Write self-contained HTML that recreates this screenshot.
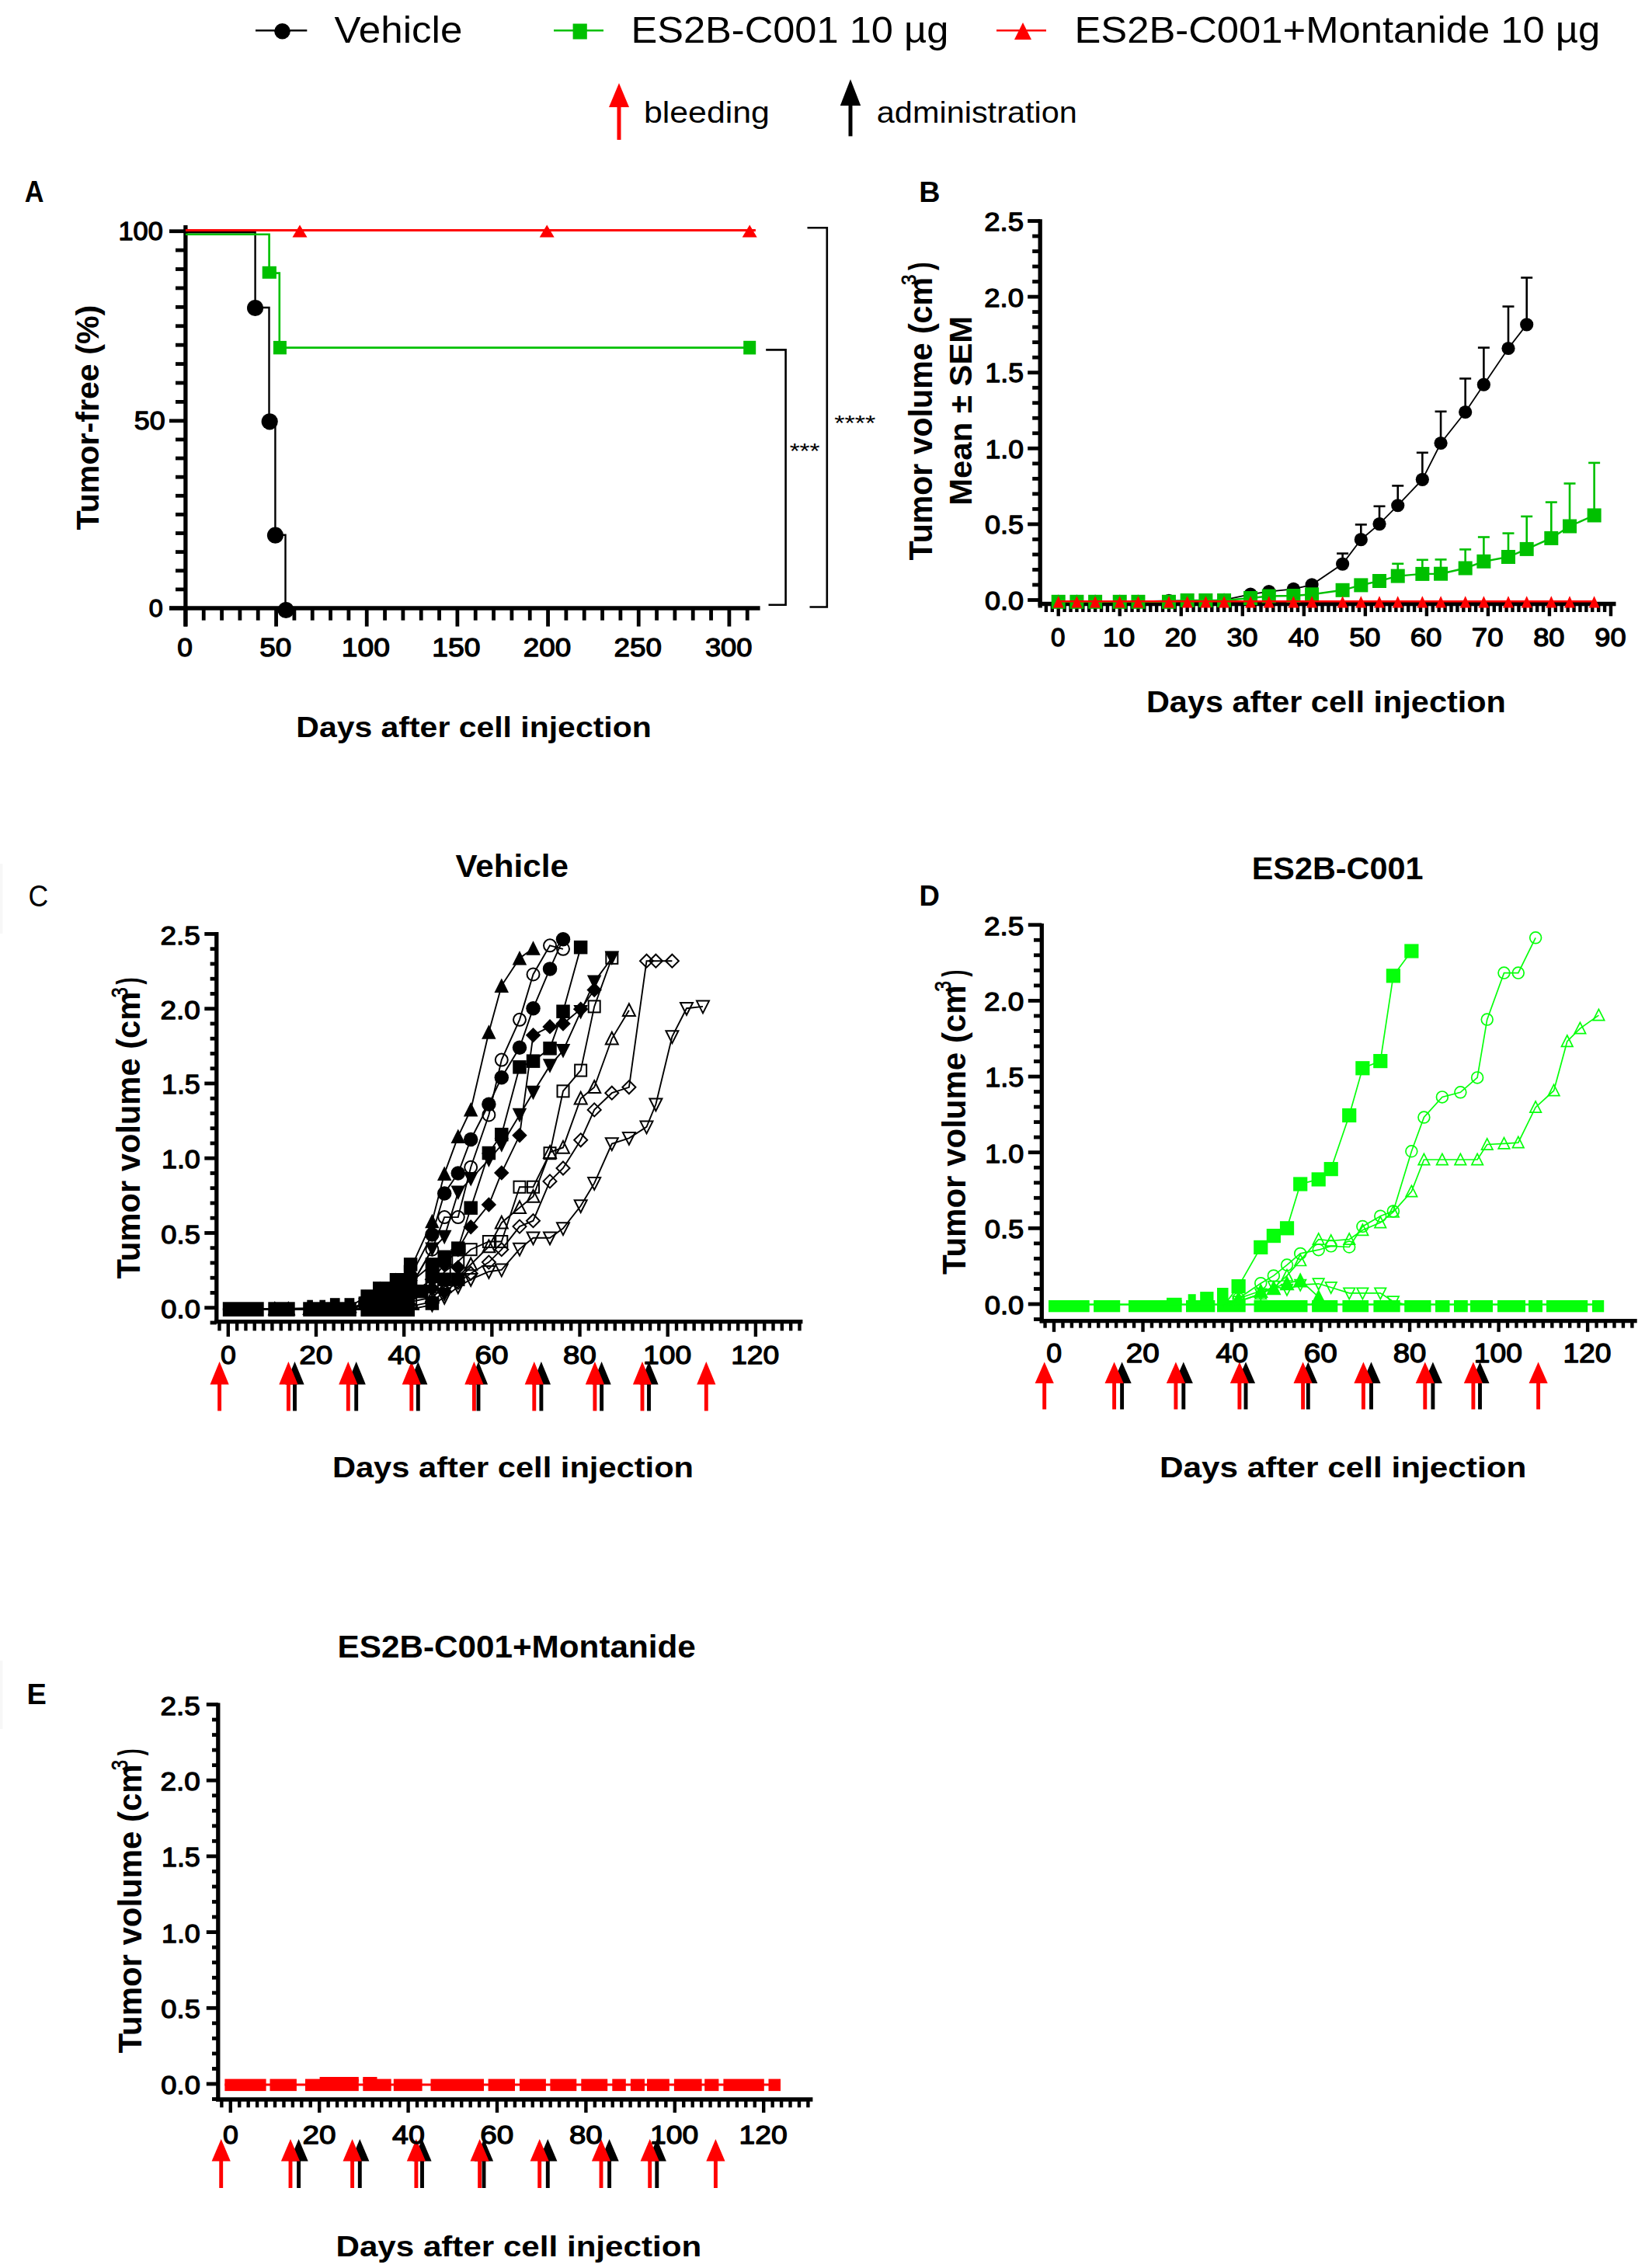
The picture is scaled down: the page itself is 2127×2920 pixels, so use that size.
<!DOCTYPE html>
<html><head><meta charset="utf-8"><style>
html,body{margin:0;padding:0;background:#fff;}
svg{display:block;}
text{font-family:"Liberation Sans", Arial, sans-serif;}
</style></head><body>
<svg width="2127" height="2920" viewBox="0 0 2127 2920">
<rect width="2127" height="2920" fill="#fff"/>
<line x1="329.00" y1="39.30" x2="395.30" y2="39.30" stroke="#000" stroke-width="2.6" stroke-linecap="butt"/>
<circle cx="363.50" cy="40.30" r="10.30" fill="#000"/>
<line x1="713.00" y1="39.30" x2="777.00" y2="39.30" stroke="#00c000" stroke-width="2.6" stroke-linecap="butt"/>
<rect x="737.60" y="30.50" width="18.20" height="20.00" fill="#00c000"/>
<line x1="1283.00" y1="39.30" x2="1347.00" y2="39.30" stroke="#ff0000" stroke-width="2.6" stroke-linecap="butt"/>
<polygon fill="#ff0000" points="1317.0,29.0 1328.0,51.0 1306.0,51.0"/>
<line x1="797.00" y1="137.00" x2="797.00" y2="180.00" stroke="#ff0000" stroke-width="5" stroke-linecap="butt"/>
<polygon fill="#ff0000" points="797.0,107.0 810.0,138.0 784.0,138.0"/>
<line x1="1095.00" y1="135.00" x2="1095.00" y2="175.40" stroke="#000" stroke-width="5" stroke-linecap="butt"/>
<polygon fill="#000" points="1095.0,102.0 1108.2,136.0 1081.8,136.0"/>
<line x1="218.00" y1="783.00" x2="239.00" y2="783.00" stroke="#000" stroke-width="4.8" stroke-linecap="butt"/>
<line x1="226.00" y1="758.88" x2="239.00" y2="758.88" stroke="#000" stroke-width="4.8" stroke-linecap="butt"/>
<line x1="226.00" y1="734.76" x2="239.00" y2="734.76" stroke="#000" stroke-width="4.8" stroke-linecap="butt"/>
<line x1="226.00" y1="710.64" x2="239.00" y2="710.64" stroke="#000" stroke-width="4.8" stroke-linecap="butt"/>
<line x1="226.00" y1="686.52" x2="239.00" y2="686.52" stroke="#000" stroke-width="4.8" stroke-linecap="butt"/>
<line x1="226.00" y1="662.40" x2="239.00" y2="662.40" stroke="#000" stroke-width="4.8" stroke-linecap="butt"/>
<line x1="226.00" y1="638.28" x2="239.00" y2="638.28" stroke="#000" stroke-width="4.8" stroke-linecap="butt"/>
<line x1="226.00" y1="614.16" x2="239.00" y2="614.16" stroke="#000" stroke-width="4.8" stroke-linecap="butt"/>
<line x1="226.00" y1="590.04" x2="239.00" y2="590.04" stroke="#000" stroke-width="4.8" stroke-linecap="butt"/>
<line x1="226.00" y1="565.92" x2="239.00" y2="565.92" stroke="#000" stroke-width="4.8" stroke-linecap="butt"/>
<line x1="218.00" y1="541.80" x2="239.00" y2="541.80" stroke="#000" stroke-width="4.8" stroke-linecap="butt"/>
<line x1="226.00" y1="517.39" x2="239.00" y2="517.39" stroke="#000" stroke-width="4.8" stroke-linecap="butt"/>
<line x1="226.00" y1="492.98" x2="239.00" y2="492.98" stroke="#000" stroke-width="4.8" stroke-linecap="butt"/>
<line x1="226.00" y1="468.57" x2="239.00" y2="468.57" stroke="#000" stroke-width="4.8" stroke-linecap="butt"/>
<line x1="226.00" y1="444.16" x2="239.00" y2="444.16" stroke="#000" stroke-width="4.8" stroke-linecap="butt"/>
<line x1="226.00" y1="419.75" x2="239.00" y2="419.75" stroke="#000" stroke-width="4.8" stroke-linecap="butt"/>
<line x1="226.00" y1="395.34" x2="239.00" y2="395.34" stroke="#000" stroke-width="4.8" stroke-linecap="butt"/>
<line x1="226.00" y1="370.93" x2="239.00" y2="370.93" stroke="#000" stroke-width="4.8" stroke-linecap="butt"/>
<line x1="226.00" y1="346.52" x2="239.00" y2="346.52" stroke="#000" stroke-width="4.8" stroke-linecap="butt"/>
<line x1="226.00" y1="322.11" x2="239.00" y2="322.11" stroke="#000" stroke-width="4.8" stroke-linecap="butt"/>
<line x1="218.00" y1="297.70" x2="239.00" y2="297.70" stroke="#000" stroke-width="4.8" stroke-linecap="butt"/>
<line x1="238.90" y1="783.00" x2="238.90" y2="806.60" stroke="#000" stroke-width="4.8" stroke-linecap="butt"/>
<line x1="262.23" y1="783.00" x2="262.23" y2="798.70" stroke="#000" stroke-width="4.8" stroke-linecap="butt"/>
<line x1="285.57" y1="783.00" x2="285.57" y2="798.70" stroke="#000" stroke-width="4.8" stroke-linecap="butt"/>
<line x1="308.90" y1="783.00" x2="308.90" y2="798.70" stroke="#000" stroke-width="4.8" stroke-linecap="butt"/>
<line x1="332.23" y1="783.00" x2="332.23" y2="798.70" stroke="#000" stroke-width="4.8" stroke-linecap="butt"/>
<line x1="355.56" y1="783.00" x2="355.56" y2="806.60" stroke="#000" stroke-width="4.8" stroke-linecap="butt"/>
<line x1="378.90" y1="783.00" x2="378.90" y2="798.70" stroke="#000" stroke-width="4.8" stroke-linecap="butt"/>
<line x1="402.23" y1="783.00" x2="402.23" y2="798.70" stroke="#000" stroke-width="4.8" stroke-linecap="butt"/>
<line x1="425.56" y1="783.00" x2="425.56" y2="798.70" stroke="#000" stroke-width="4.8" stroke-linecap="butt"/>
<line x1="448.90" y1="783.00" x2="448.90" y2="798.70" stroke="#000" stroke-width="4.8" stroke-linecap="butt"/>
<line x1="472.23" y1="783.00" x2="472.23" y2="806.60" stroke="#000" stroke-width="4.8" stroke-linecap="butt"/>
<line x1="495.56" y1="783.00" x2="495.56" y2="798.70" stroke="#000" stroke-width="4.8" stroke-linecap="butt"/>
<line x1="518.90" y1="783.00" x2="518.90" y2="798.70" stroke="#000" stroke-width="4.8" stroke-linecap="butt"/>
<line x1="542.23" y1="783.00" x2="542.23" y2="798.70" stroke="#000" stroke-width="4.8" stroke-linecap="butt"/>
<line x1="565.56" y1="783.00" x2="565.56" y2="798.70" stroke="#000" stroke-width="4.8" stroke-linecap="butt"/>
<line x1="588.89" y1="783.00" x2="588.89" y2="806.60" stroke="#000" stroke-width="4.8" stroke-linecap="butt"/>
<line x1="612.23" y1="783.00" x2="612.23" y2="798.70" stroke="#000" stroke-width="4.8" stroke-linecap="butt"/>
<line x1="635.56" y1="783.00" x2="635.56" y2="798.70" stroke="#000" stroke-width="4.8" stroke-linecap="butt"/>
<line x1="658.89" y1="783.00" x2="658.89" y2="798.70" stroke="#000" stroke-width="4.8" stroke-linecap="butt"/>
<line x1="682.23" y1="783.00" x2="682.23" y2="798.70" stroke="#000" stroke-width="4.8" stroke-linecap="butt"/>
<line x1="705.56" y1="783.00" x2="705.56" y2="806.60" stroke="#000" stroke-width="4.8" stroke-linecap="butt"/>
<line x1="728.89" y1="783.00" x2="728.89" y2="798.70" stroke="#000" stroke-width="4.8" stroke-linecap="butt"/>
<line x1="752.23" y1="783.00" x2="752.23" y2="798.70" stroke="#000" stroke-width="4.8" stroke-linecap="butt"/>
<line x1="775.56" y1="783.00" x2="775.56" y2="798.70" stroke="#000" stroke-width="4.8" stroke-linecap="butt"/>
<line x1="798.89" y1="783.00" x2="798.89" y2="798.70" stroke="#000" stroke-width="4.8" stroke-linecap="butt"/>
<line x1="822.22" y1="783.00" x2="822.22" y2="806.60" stroke="#000" stroke-width="4.8" stroke-linecap="butt"/>
<line x1="845.56" y1="783.00" x2="845.56" y2="798.70" stroke="#000" stroke-width="4.8" stroke-linecap="butt"/>
<line x1="868.89" y1="783.00" x2="868.89" y2="798.70" stroke="#000" stroke-width="4.8" stroke-linecap="butt"/>
<line x1="892.22" y1="783.00" x2="892.22" y2="798.70" stroke="#000" stroke-width="4.8" stroke-linecap="butt"/>
<line x1="915.56" y1="783.00" x2="915.56" y2="798.70" stroke="#000" stroke-width="4.8" stroke-linecap="butt"/>
<line x1="938.89" y1="783.00" x2="938.89" y2="806.60" stroke="#000" stroke-width="4.8" stroke-linecap="butt"/>
<line x1="962.22" y1="783.00" x2="962.22" y2="798.70" stroke="#000" stroke-width="4.8" stroke-linecap="butt"/>
<line x1="238.90" y1="290.00" x2="238.90" y2="806.60" stroke="#000" stroke-width="5.3" stroke-linecap="butt"/>
<line x1="218.00" y1="783.00" x2="978.60" y2="783.00" stroke="#000" stroke-width="5.3" stroke-linecap="butt"/>
<polyline fill="none" stroke="#000" stroke-width="2.4" stroke-linejoin="miter" points="238.9,299.2 328.6,299.2 328.6,396.0 346.5,396.0 346.5,542.6 354.4,542.6 354.4,688.8 367.5,688.8 367.5,784.5"/>
<circle cx="328.60" cy="396.50" r="10.60" fill="#000"/>
<circle cx="347.20" cy="542.80" r="10.60" fill="#000"/>
<circle cx="354.50" cy="689.20" r="10.60" fill="#000"/>
<circle cx="368.20" cy="785.50" r="10.60" fill="#000"/>
<polyline fill="none" stroke="#00c000" stroke-width="2.6" stroke-linejoin="miter" points="238.9,301.8 346.6,301.8 346.6,351.6 359.8,351.6 359.8,447.6 965.0,447.6"/>
<rect x="337.70" y="342.80" width="18.20" height="16.00" fill="#00c000"/>
<rect x="351.90" y="438.90" width="17.00" height="17.40" fill="#00c000"/>
<rect x="957.20" y="438.80" width="16.00" height="17.60" fill="#00c000"/>
<polyline fill="none" stroke="#ff0000" stroke-width="3" stroke-linejoin="miter" points="238.9,296.6 972.9,296.6"/>
<polygon fill="#ff0000" points="386.0,289.5 395.5,305.5 376.5,305.5"/>
<polygon fill="#ff0000" points="704.2,289.5 713.7,305.5 694.7,305.5"/>
<polygon fill="#ff0000" points="965.2,289.5 974.7,305.5 955.7,305.5"/>
<polyline fill="none" stroke="#000" stroke-width="2.6" stroke-linejoin="miter" points="986.2,450.4 1011.6,450.4 1011.6,778.7 989.5,778.7"/>
<polyline fill="none" stroke="#000" stroke-width="2.6" stroke-linejoin="miter" points="1039.5,293.3 1064.8,293.3 1064.8,781.5 1042.5,781.5"/>
<text x="430.50" y="55.00" font-size="47.49" font-weight="normal" fill="#000" textLength="164.85" lengthAdjust="spacingAndGlyphs">Vehicle</text>
<text x="812.45" y="55.00" font-size="47.49" font-weight="normal" fill="#000" textLength="408.89" lengthAdjust="spacingAndGlyphs">ES2B-C001 10 µg</text>
<text x="1383.44" y="55.00" font-size="47.49" font-weight="normal" fill="#000" textLength="676.91" lengthAdjust="spacingAndGlyphs">ES2B-C001+Montanide 10 µg</text>
<text x="828.93" y="158.00" font-size="39.11" font-weight="normal" fill="#000" textLength="161.98" lengthAdjust="spacingAndGlyphs">bleeding</text>
<text x="1128.84" y="158.00" font-size="39.11" font-weight="normal" fill="#000" textLength="257.98" lengthAdjust="spacingAndGlyphs">administration</text>
<text x="31.81" y="259.80" font-size="38.13" font-weight="bold" fill="#000" textLength="24.74" lengthAdjust="spacingAndGlyphs">A</text>
<text x="1183.34" y="259.80" font-size="37.85" font-weight="bold" fill="#000" textLength="27.26" lengthAdjust="spacingAndGlyphs">B</text>
<text x="36.42" y="1166.50" font-size="38.27" font-weight="normal" fill="#000" textLength="25.73" lengthAdjust="spacingAndGlyphs">C</text>
<text x="1183.41" y="1166.30" font-size="37.43" font-weight="bold" fill="#000" textLength="26.36" lengthAdjust="spacingAndGlyphs">D</text>
<text x="34.42" y="2193.50" font-size="36.59" font-weight="bold" fill="#000" textLength="25.39" lengthAdjust="spacingAndGlyphs">E</text>
<text x="152.55" y="309.35" font-size="33.14" font-weight="normal" fill="#000" stroke="#000" stroke-width="1.3" stroke-linejoin="round" textLength="57.24" lengthAdjust="spacingAndGlyphs">100</text>
<text x="172.82" y="553.25" font-size="33.29" font-weight="normal" fill="#000" stroke="#000" stroke-width="1.3" stroke-linejoin="round" textLength="39.83" lengthAdjust="spacingAndGlyphs">50</text>
<text x="191.68" y="794.25" font-size="32.14" font-weight="normal" fill="#000" stroke="#000" stroke-width="1.3" stroke-linejoin="round" textLength="18.05" lengthAdjust="spacingAndGlyphs">0</text>
<text x="228.39" y="845.45" font-size="33.86" font-weight="normal" fill="#000" stroke="#000" stroke-width="1.3" stroke-linejoin="round" textLength="19.64" lengthAdjust="spacingAndGlyphs">0</text>
<text x="334.19" y="845.45" font-size="33.86" font-weight="normal" fill="#000" stroke="#000" stroke-width="1.3" stroke-linejoin="round" textLength="41.01" lengthAdjust="spacingAndGlyphs">50</text>
<text x="439.72" y="845.45" font-size="33.86" font-weight="normal" fill="#000" stroke="#000" stroke-width="1.3" stroke-linejoin="round" textLength="62.15" lengthAdjust="spacingAndGlyphs">100</text>
<text x="556.39" y="845.45" font-size="33.86" font-weight="normal" fill="#000" stroke="#000" stroke-width="1.3" stroke-linejoin="round" textLength="62.15" lengthAdjust="spacingAndGlyphs">150</text>
<text x="673.82" y="845.45" font-size="33.86" font-weight="normal" fill="#000" stroke="#000" stroke-width="1.3" stroke-linejoin="round" textLength="61.37" lengthAdjust="spacingAndGlyphs">200</text>
<text x="790.49" y="845.45" font-size="33.86" font-weight="normal" fill="#000" stroke="#000" stroke-width="1.3" stroke-linejoin="round" textLength="61.37" lengthAdjust="spacingAndGlyphs">250</text>
<text x="907.90" y="845.45" font-size="33.86" font-weight="normal" fill="#000" stroke="#000" stroke-width="1.3" stroke-linejoin="round" textLength="60.60" lengthAdjust="spacingAndGlyphs">300</text>
<text x="381.34" y="948.50" font-size="37.01" font-weight="bold" fill="#000" textLength="457.35" lengthAdjust="spacingAndGlyphs">Days after cell injection</text>
<text transform="translate(127.00,682.00) rotate(-90)" x="-0.41" y="0" font-size="40.36" font-weight="bold" fill="#000" textLength="289.58" lengthAdjust="spacingAndGlyphs">Tumor-free (%)</text>
<text x="1016.67" y="590.34" font-size="26.94" font-weight="normal" fill="#000" textLength="38.84" lengthAdjust="spacingAndGlyphs">***</text>
<text x="1074.16" y="553.53" font-size="27.50" font-weight="normal" fill="#000" textLength="53.15" lengthAdjust="spacingAndGlyphs">****</text>
<line x1="1323.20" y1="772.50" x2="1339.20" y2="772.50" stroke="#000" stroke-width="4.8" stroke-linecap="butt"/>
<line x1="1329.20" y1="752.98" x2="1339.20" y2="752.98" stroke="#000" stroke-width="4.8" stroke-linecap="butt"/>
<line x1="1329.20" y1="733.46" x2="1339.20" y2="733.46" stroke="#000" stroke-width="4.8" stroke-linecap="butt"/>
<line x1="1329.20" y1="713.94" x2="1339.20" y2="713.94" stroke="#000" stroke-width="4.8" stroke-linecap="butt"/>
<line x1="1329.20" y1="694.42" x2="1339.20" y2="694.42" stroke="#000" stroke-width="4.8" stroke-linecap="butt"/>
<line x1="1323.20" y1="674.90" x2="1339.20" y2="674.90" stroke="#000" stroke-width="4.8" stroke-linecap="butt"/>
<line x1="1329.20" y1="655.38" x2="1339.20" y2="655.38" stroke="#000" stroke-width="4.8" stroke-linecap="butt"/>
<line x1="1329.20" y1="635.86" x2="1339.20" y2="635.86" stroke="#000" stroke-width="4.8" stroke-linecap="butt"/>
<line x1="1329.20" y1="616.34" x2="1339.20" y2="616.34" stroke="#000" stroke-width="4.8" stroke-linecap="butt"/>
<line x1="1329.20" y1="596.82" x2="1339.20" y2="596.82" stroke="#000" stroke-width="4.8" stroke-linecap="butt"/>
<line x1="1323.20" y1="577.30" x2="1339.20" y2="577.30" stroke="#000" stroke-width="4.8" stroke-linecap="butt"/>
<line x1="1329.20" y1="557.78" x2="1339.20" y2="557.78" stroke="#000" stroke-width="4.8" stroke-linecap="butt"/>
<line x1="1329.20" y1="538.26" x2="1339.20" y2="538.26" stroke="#000" stroke-width="4.8" stroke-linecap="butt"/>
<line x1="1329.20" y1="518.74" x2="1339.20" y2="518.74" stroke="#000" stroke-width="4.8" stroke-linecap="butt"/>
<line x1="1329.20" y1="499.22" x2="1339.20" y2="499.22" stroke="#000" stroke-width="4.8" stroke-linecap="butt"/>
<line x1="1323.20" y1="479.70" x2="1339.20" y2="479.70" stroke="#000" stroke-width="4.8" stroke-linecap="butt"/>
<line x1="1329.20" y1="460.18" x2="1339.20" y2="460.18" stroke="#000" stroke-width="4.8" stroke-linecap="butt"/>
<line x1="1329.20" y1="440.66" x2="1339.20" y2="440.66" stroke="#000" stroke-width="4.8" stroke-linecap="butt"/>
<line x1="1329.20" y1="421.14" x2="1339.20" y2="421.14" stroke="#000" stroke-width="4.8" stroke-linecap="butt"/>
<line x1="1329.20" y1="401.62" x2="1339.20" y2="401.62" stroke="#000" stroke-width="4.8" stroke-linecap="butt"/>
<line x1="1323.20" y1="382.10" x2="1339.20" y2="382.10" stroke="#000" stroke-width="4.8" stroke-linecap="butt"/>
<line x1="1329.20" y1="362.58" x2="1339.20" y2="362.58" stroke="#000" stroke-width="4.8" stroke-linecap="butt"/>
<line x1="1329.20" y1="343.06" x2="1339.20" y2="343.06" stroke="#000" stroke-width="4.8" stroke-linecap="butt"/>
<line x1="1329.20" y1="323.54" x2="1339.20" y2="323.54" stroke="#000" stroke-width="4.8" stroke-linecap="butt"/>
<line x1="1329.20" y1="304.02" x2="1339.20" y2="304.02" stroke="#000" stroke-width="4.8" stroke-linecap="butt"/>
<line x1="1323.20" y1="284.50" x2="1339.20" y2="284.50" stroke="#000" stroke-width="4.8" stroke-linecap="butt"/>
<line x1="1346.89" y1="777.50" x2="1346.89" y2="788.00" stroke="#000" stroke-width="4.4" stroke-linecap="butt"/>
<line x1="1354.80" y1="777.50" x2="1354.80" y2="788.00" stroke="#000" stroke-width="4.4" stroke-linecap="butt"/>
<line x1="1362.70" y1="777.50" x2="1362.70" y2="793.30" stroke="#000" stroke-width="4.4" stroke-linecap="butt"/>
<line x1="1370.60" y1="777.50" x2="1370.60" y2="788.00" stroke="#000" stroke-width="4.4" stroke-linecap="butt"/>
<line x1="1378.51" y1="777.50" x2="1378.51" y2="788.00" stroke="#000" stroke-width="4.4" stroke-linecap="butt"/>
<line x1="1386.41" y1="777.50" x2="1386.41" y2="788.00" stroke="#000" stroke-width="4.4" stroke-linecap="butt"/>
<line x1="1394.31" y1="777.50" x2="1394.31" y2="788.00" stroke="#000" stroke-width="4.4" stroke-linecap="butt"/>
<line x1="1402.22" y1="777.50" x2="1402.22" y2="788.00" stroke="#000" stroke-width="4.4" stroke-linecap="butt"/>
<line x1="1410.12" y1="777.50" x2="1410.12" y2="788.00" stroke="#000" stroke-width="4.4" stroke-linecap="butt"/>
<line x1="1418.02" y1="777.50" x2="1418.02" y2="788.00" stroke="#000" stroke-width="4.4" stroke-linecap="butt"/>
<line x1="1425.92" y1="777.50" x2="1425.92" y2="788.00" stroke="#000" stroke-width="4.4" stroke-linecap="butt"/>
<line x1="1433.83" y1="777.50" x2="1433.83" y2="788.00" stroke="#000" stroke-width="4.4" stroke-linecap="butt"/>
<line x1="1441.73" y1="777.50" x2="1441.73" y2="793.30" stroke="#000" stroke-width="4.4" stroke-linecap="butt"/>
<line x1="1449.63" y1="777.50" x2="1449.63" y2="788.00" stroke="#000" stroke-width="4.4" stroke-linecap="butt"/>
<line x1="1457.54" y1="777.50" x2="1457.54" y2="788.00" stroke="#000" stroke-width="4.4" stroke-linecap="butt"/>
<line x1="1465.44" y1="777.50" x2="1465.44" y2="788.00" stroke="#000" stroke-width="4.4" stroke-linecap="butt"/>
<line x1="1473.34" y1="777.50" x2="1473.34" y2="788.00" stroke="#000" stroke-width="4.4" stroke-linecap="butt"/>
<line x1="1481.25" y1="777.50" x2="1481.25" y2="788.00" stroke="#000" stroke-width="4.4" stroke-linecap="butt"/>
<line x1="1489.15" y1="777.50" x2="1489.15" y2="788.00" stroke="#000" stroke-width="4.4" stroke-linecap="butt"/>
<line x1="1497.05" y1="777.50" x2="1497.05" y2="788.00" stroke="#000" stroke-width="4.4" stroke-linecap="butt"/>
<line x1="1504.95" y1="777.50" x2="1504.95" y2="788.00" stroke="#000" stroke-width="4.4" stroke-linecap="butt"/>
<line x1="1512.86" y1="777.50" x2="1512.86" y2="788.00" stroke="#000" stroke-width="4.4" stroke-linecap="butt"/>
<line x1="1520.76" y1="777.50" x2="1520.76" y2="793.30" stroke="#000" stroke-width="4.4" stroke-linecap="butt"/>
<line x1="1528.66" y1="777.50" x2="1528.66" y2="788.00" stroke="#000" stroke-width="4.4" stroke-linecap="butt"/>
<line x1="1536.57" y1="777.50" x2="1536.57" y2="788.00" stroke="#000" stroke-width="4.4" stroke-linecap="butt"/>
<line x1="1544.47" y1="777.50" x2="1544.47" y2="788.00" stroke="#000" stroke-width="4.4" stroke-linecap="butt"/>
<line x1="1552.37" y1="777.50" x2="1552.37" y2="788.00" stroke="#000" stroke-width="4.4" stroke-linecap="butt"/>
<line x1="1560.28" y1="777.50" x2="1560.28" y2="788.00" stroke="#000" stroke-width="4.4" stroke-linecap="butt"/>
<line x1="1568.18" y1="777.50" x2="1568.18" y2="788.00" stroke="#000" stroke-width="4.4" stroke-linecap="butt"/>
<line x1="1576.08" y1="777.50" x2="1576.08" y2="788.00" stroke="#000" stroke-width="4.4" stroke-linecap="butt"/>
<line x1="1583.98" y1="777.50" x2="1583.98" y2="788.00" stroke="#000" stroke-width="4.4" stroke-linecap="butt"/>
<line x1="1591.89" y1="777.50" x2="1591.89" y2="788.00" stroke="#000" stroke-width="4.4" stroke-linecap="butt"/>
<line x1="1599.79" y1="777.50" x2="1599.79" y2="793.30" stroke="#000" stroke-width="4.4" stroke-linecap="butt"/>
<line x1="1607.69" y1="777.50" x2="1607.69" y2="788.00" stroke="#000" stroke-width="4.4" stroke-linecap="butt"/>
<line x1="1615.60" y1="777.50" x2="1615.60" y2="788.00" stroke="#000" stroke-width="4.4" stroke-linecap="butt"/>
<line x1="1623.50" y1="777.50" x2="1623.50" y2="788.00" stroke="#000" stroke-width="4.4" stroke-linecap="butt"/>
<line x1="1631.40" y1="777.50" x2="1631.40" y2="788.00" stroke="#000" stroke-width="4.4" stroke-linecap="butt"/>
<line x1="1639.31" y1="777.50" x2="1639.31" y2="788.00" stroke="#000" stroke-width="4.4" stroke-linecap="butt"/>
<line x1="1647.21" y1="777.50" x2="1647.21" y2="788.00" stroke="#000" stroke-width="4.4" stroke-linecap="butt"/>
<line x1="1655.11" y1="777.50" x2="1655.11" y2="788.00" stroke="#000" stroke-width="4.4" stroke-linecap="butt"/>
<line x1="1663.01" y1="777.50" x2="1663.01" y2="788.00" stroke="#000" stroke-width="4.4" stroke-linecap="butt"/>
<line x1="1670.92" y1="777.50" x2="1670.92" y2="788.00" stroke="#000" stroke-width="4.4" stroke-linecap="butt"/>
<line x1="1678.82" y1="777.50" x2="1678.82" y2="793.30" stroke="#000" stroke-width="4.4" stroke-linecap="butt"/>
<line x1="1686.72" y1="777.50" x2="1686.72" y2="788.00" stroke="#000" stroke-width="4.4" stroke-linecap="butt"/>
<line x1="1694.63" y1="777.50" x2="1694.63" y2="788.00" stroke="#000" stroke-width="4.4" stroke-linecap="butt"/>
<line x1="1702.53" y1="777.50" x2="1702.53" y2="788.00" stroke="#000" stroke-width="4.4" stroke-linecap="butt"/>
<line x1="1710.43" y1="777.50" x2="1710.43" y2="788.00" stroke="#000" stroke-width="4.4" stroke-linecap="butt"/>
<line x1="1718.34" y1="777.50" x2="1718.34" y2="788.00" stroke="#000" stroke-width="4.4" stroke-linecap="butt"/>
<line x1="1726.24" y1="777.50" x2="1726.24" y2="788.00" stroke="#000" stroke-width="4.4" stroke-linecap="butt"/>
<line x1="1734.14" y1="777.50" x2="1734.14" y2="788.00" stroke="#000" stroke-width="4.4" stroke-linecap="butt"/>
<line x1="1742.04" y1="777.50" x2="1742.04" y2="788.00" stroke="#000" stroke-width="4.4" stroke-linecap="butt"/>
<line x1="1749.95" y1="777.50" x2="1749.95" y2="788.00" stroke="#000" stroke-width="4.4" stroke-linecap="butt"/>
<line x1="1757.85" y1="777.50" x2="1757.85" y2="793.30" stroke="#000" stroke-width="4.4" stroke-linecap="butt"/>
<line x1="1765.75" y1="777.50" x2="1765.75" y2="788.00" stroke="#000" stroke-width="4.4" stroke-linecap="butt"/>
<line x1="1773.66" y1="777.50" x2="1773.66" y2="788.00" stroke="#000" stroke-width="4.4" stroke-linecap="butt"/>
<line x1="1781.56" y1="777.50" x2="1781.56" y2="788.00" stroke="#000" stroke-width="4.4" stroke-linecap="butt"/>
<line x1="1789.46" y1="777.50" x2="1789.46" y2="788.00" stroke="#000" stroke-width="4.4" stroke-linecap="butt"/>
<line x1="1797.37" y1="777.50" x2="1797.37" y2="788.00" stroke="#000" stroke-width="4.4" stroke-linecap="butt"/>
<line x1="1805.27" y1="777.50" x2="1805.27" y2="788.00" stroke="#000" stroke-width="4.4" stroke-linecap="butt"/>
<line x1="1813.17" y1="777.50" x2="1813.17" y2="788.00" stroke="#000" stroke-width="4.4" stroke-linecap="butt"/>
<line x1="1821.07" y1="777.50" x2="1821.07" y2="788.00" stroke="#000" stroke-width="4.4" stroke-linecap="butt"/>
<line x1="1828.98" y1="777.50" x2="1828.98" y2="788.00" stroke="#000" stroke-width="4.4" stroke-linecap="butt"/>
<line x1="1836.88" y1="777.50" x2="1836.88" y2="793.30" stroke="#000" stroke-width="4.4" stroke-linecap="butt"/>
<line x1="1844.78" y1="777.50" x2="1844.78" y2="788.00" stroke="#000" stroke-width="4.4" stroke-linecap="butt"/>
<line x1="1852.69" y1="777.50" x2="1852.69" y2="788.00" stroke="#000" stroke-width="4.4" stroke-linecap="butt"/>
<line x1="1860.59" y1="777.50" x2="1860.59" y2="788.00" stroke="#000" stroke-width="4.4" stroke-linecap="butt"/>
<line x1="1868.49" y1="777.50" x2="1868.49" y2="788.00" stroke="#000" stroke-width="4.4" stroke-linecap="butt"/>
<line x1="1876.39" y1="777.50" x2="1876.39" y2="788.00" stroke="#000" stroke-width="4.4" stroke-linecap="butt"/>
<line x1="1884.30" y1="777.50" x2="1884.30" y2="788.00" stroke="#000" stroke-width="4.4" stroke-linecap="butt"/>
<line x1="1892.20" y1="777.50" x2="1892.20" y2="788.00" stroke="#000" stroke-width="4.4" stroke-linecap="butt"/>
<line x1="1900.10" y1="777.50" x2="1900.10" y2="788.00" stroke="#000" stroke-width="4.4" stroke-linecap="butt"/>
<line x1="1908.01" y1="777.50" x2="1908.01" y2="788.00" stroke="#000" stroke-width="4.4" stroke-linecap="butt"/>
<line x1="1915.91" y1="777.50" x2="1915.91" y2="793.30" stroke="#000" stroke-width="4.4" stroke-linecap="butt"/>
<line x1="1923.81" y1="777.50" x2="1923.81" y2="788.00" stroke="#000" stroke-width="4.4" stroke-linecap="butt"/>
<line x1="1931.72" y1="777.50" x2="1931.72" y2="788.00" stroke="#000" stroke-width="4.4" stroke-linecap="butt"/>
<line x1="1939.62" y1="777.50" x2="1939.62" y2="788.00" stroke="#000" stroke-width="4.4" stroke-linecap="butt"/>
<line x1="1947.52" y1="777.50" x2="1947.52" y2="788.00" stroke="#000" stroke-width="4.4" stroke-linecap="butt"/>
<line x1="1955.43" y1="777.50" x2="1955.43" y2="788.00" stroke="#000" stroke-width="4.4" stroke-linecap="butt"/>
<line x1="1963.33" y1="777.50" x2="1963.33" y2="788.00" stroke="#000" stroke-width="4.4" stroke-linecap="butt"/>
<line x1="1971.23" y1="777.50" x2="1971.23" y2="788.00" stroke="#000" stroke-width="4.4" stroke-linecap="butt"/>
<line x1="1979.13" y1="777.50" x2="1979.13" y2="788.00" stroke="#000" stroke-width="4.4" stroke-linecap="butt"/>
<line x1="1987.04" y1="777.50" x2="1987.04" y2="788.00" stroke="#000" stroke-width="4.4" stroke-linecap="butt"/>
<line x1="1994.94" y1="777.50" x2="1994.94" y2="793.30" stroke="#000" stroke-width="4.4" stroke-linecap="butt"/>
<line x1="2002.84" y1="777.50" x2="2002.84" y2="788.00" stroke="#000" stroke-width="4.4" stroke-linecap="butt"/>
<line x1="2010.75" y1="777.50" x2="2010.75" y2="788.00" stroke="#000" stroke-width="4.4" stroke-linecap="butt"/>
<line x1="2018.65" y1="777.50" x2="2018.65" y2="788.00" stroke="#000" stroke-width="4.4" stroke-linecap="butt"/>
<line x1="2026.55" y1="777.50" x2="2026.55" y2="788.00" stroke="#000" stroke-width="4.4" stroke-linecap="butt"/>
<line x1="2034.45" y1="777.50" x2="2034.45" y2="788.00" stroke="#000" stroke-width="4.4" stroke-linecap="butt"/>
<line x1="2042.36" y1="777.50" x2="2042.36" y2="788.00" stroke="#000" stroke-width="4.4" stroke-linecap="butt"/>
<line x1="2050.26" y1="777.50" x2="2050.26" y2="788.00" stroke="#000" stroke-width="4.4" stroke-linecap="butt"/>
<line x1="2058.16" y1="777.50" x2="2058.16" y2="788.00" stroke="#000" stroke-width="4.4" stroke-linecap="butt"/>
<line x1="2066.07" y1="777.50" x2="2066.07" y2="788.00" stroke="#000" stroke-width="4.4" stroke-linecap="butt"/>
<line x1="2073.97" y1="777.50" x2="2073.97" y2="793.30" stroke="#000" stroke-width="4.4" stroke-linecap="butt"/>
<line x1="1339.20" y1="282.30" x2="1339.20" y2="782.60" stroke="#000" stroke-width="5.3" stroke-linecap="butt"/>
<line x1="1336.60" y1="777.50" x2="2080.50" y2="777.50" stroke="#000" stroke-width="5.3" stroke-linecap="butt"/>
<line x1="1728.61" y1="726.09" x2="1728.61" y2="712.60" stroke="#000" stroke-width="2.6" stroke-linecap="butt"/>
<line x1="1721.11" y1="712.60" x2="1736.11" y2="712.60" stroke="#000" stroke-width="2.6" stroke-linecap="butt"/>
<line x1="1752.32" y1="694.66" x2="1752.32" y2="675.40" stroke="#000" stroke-width="2.6" stroke-linecap="butt"/>
<line x1="1744.82" y1="675.40" x2="1759.82" y2="675.40" stroke="#000" stroke-width="2.6" stroke-linecap="butt"/>
<line x1="1776.03" y1="674.55" x2="1776.03" y2="651.80" stroke="#000" stroke-width="2.6" stroke-linecap="butt"/>
<line x1="1768.53" y1="651.80" x2="1783.53" y2="651.80" stroke="#000" stroke-width="2.6" stroke-linecap="butt"/>
<line x1="1799.74" y1="650.74" x2="1799.74" y2="625.40" stroke="#000" stroke-width="2.6" stroke-linecap="butt"/>
<line x1="1792.24" y1="625.40" x2="1807.24" y2="625.40" stroke="#000" stroke-width="2.6" stroke-linecap="butt"/>
<line x1="1831.35" y1="617.36" x2="1831.35" y2="582.80" stroke="#000" stroke-width="2.6" stroke-linecap="butt"/>
<line x1="1823.85" y1="582.80" x2="1838.85" y2="582.80" stroke="#000" stroke-width="2.6" stroke-linecap="butt"/>
<line x1="1855.06" y1="570.51" x2="1855.06" y2="529.80" stroke="#000" stroke-width="2.6" stroke-linecap="butt"/>
<line x1="1847.56" y1="529.80" x2="1862.56" y2="529.80" stroke="#000" stroke-width="2.6" stroke-linecap="butt"/>
<line x1="1886.67" y1="530.50" x2="1886.67" y2="487.40" stroke="#000" stroke-width="2.6" stroke-linecap="butt"/>
<line x1="1879.17" y1="487.40" x2="1894.17" y2="487.40" stroke="#000" stroke-width="2.6" stroke-linecap="butt"/>
<line x1="1910.38" y1="495.16" x2="1910.38" y2="447.60" stroke="#000" stroke-width="2.6" stroke-linecap="butt"/>
<line x1="1902.88" y1="447.60" x2="1917.88" y2="447.60" stroke="#000" stroke-width="2.6" stroke-linecap="butt"/>
<line x1="1941.99" y1="448.51" x2="1941.99" y2="394.60" stroke="#000" stroke-width="2.6" stroke-linecap="butt"/>
<line x1="1934.49" y1="394.60" x2="1949.49" y2="394.60" stroke="#000" stroke-width="2.6" stroke-linecap="butt"/>
<line x1="1965.70" y1="417.86" x2="1965.70" y2="357.50" stroke="#000" stroke-width="2.6" stroke-linecap="butt"/>
<line x1="1958.20" y1="357.50" x2="1973.20" y2="357.50" stroke="#000" stroke-width="2.6" stroke-linecap="butt"/>
<polyline fill="none" stroke="#000" stroke-width="1.8" stroke-linejoin="miter" points="1362.7,774.3 1386.4,774.3 1410.1,774.3 1441.7,774.3 1465.4,774.3 1505.0,773.3 1528.7,773.3 1552.4,773.3 1576.1,772.3 1610.1,765.1 1633.8,761.6 1665.4,758.3 1689.1,752.8 1728.6,726.1 1752.3,694.7 1776.0,674.6 1799.7,650.7 1831.3,617.4 1855.1,570.5 1886.7,530.5 1910.4,495.2 1942.0,448.5 1965.7,417.9"/>
<circle cx="1362.70" cy="774.30" r="8.60" fill="#000"/>
<circle cx="1386.41" cy="774.30" r="8.60" fill="#000"/>
<circle cx="1410.12" cy="774.30" r="8.60" fill="#000"/>
<circle cx="1441.73" cy="774.30" r="8.60" fill="#000"/>
<circle cx="1465.44" cy="774.30" r="8.60" fill="#000"/>
<circle cx="1504.95" cy="773.32" r="8.60" fill="#000"/>
<circle cx="1528.66" cy="773.32" r="8.60" fill="#000"/>
<circle cx="1552.37" cy="773.32" r="8.60" fill="#000"/>
<circle cx="1576.08" cy="772.35" r="8.60" fill="#000"/>
<circle cx="1610.06" cy="765.13" r="8.60" fill="#000"/>
<circle cx="1633.77" cy="761.61" r="8.60" fill="#000"/>
<circle cx="1665.38" cy="758.29" r="8.60" fill="#000"/>
<circle cx="1689.09" cy="752.83" r="8.60" fill="#000"/>
<circle cx="1728.61" cy="726.09" r="8.60" fill="#000"/>
<circle cx="1752.32" cy="694.66" r="8.60" fill="#000"/>
<circle cx="1776.03" cy="674.55" r="8.60" fill="#000"/>
<circle cx="1799.74" cy="650.74" r="8.60" fill="#000"/>
<circle cx="1831.35" cy="617.36" r="8.60" fill="#000"/>
<circle cx="1855.06" cy="570.51" r="8.60" fill="#000"/>
<circle cx="1886.67" cy="530.50" r="8.60" fill="#000"/>
<circle cx="1910.38" cy="495.16" r="8.60" fill="#000"/>
<circle cx="1941.99" cy="448.51" r="8.60" fill="#000"/>
<circle cx="1965.70" cy="417.86" r="8.60" fill="#000"/>
<line x1="1799.74" y1="741.60" x2="1799.74" y2="725.80" stroke="#00c000" stroke-width="2.6" stroke-linecap="butt"/>
<line x1="1792.24" y1="725.80" x2="1807.24" y2="725.80" stroke="#00c000" stroke-width="2.6" stroke-linecap="butt"/>
<line x1="1831.35" y1="738.90" x2="1831.35" y2="720.80" stroke="#00c000" stroke-width="2.6" stroke-linecap="butt"/>
<line x1="1823.85" y1="720.80" x2="1838.85" y2="720.80" stroke="#00c000" stroke-width="2.6" stroke-linecap="butt"/>
<line x1="1855.06" y1="738.70" x2="1855.06" y2="720.40" stroke="#00c000" stroke-width="2.6" stroke-linecap="butt"/>
<line x1="1847.56" y1="720.40" x2="1862.56" y2="720.40" stroke="#00c000" stroke-width="2.6" stroke-linecap="butt"/>
<line x1="1886.67" y1="731.50" x2="1886.67" y2="707.40" stroke="#00c000" stroke-width="2.6" stroke-linecap="butt"/>
<line x1="1879.17" y1="707.40" x2="1894.17" y2="707.40" stroke="#00c000" stroke-width="2.6" stroke-linecap="butt"/>
<line x1="1910.38" y1="722.80" x2="1910.38" y2="691.50" stroke="#00c000" stroke-width="2.6" stroke-linecap="butt"/>
<line x1="1902.88" y1="691.50" x2="1917.88" y2="691.50" stroke="#00c000" stroke-width="2.6" stroke-linecap="butt"/>
<line x1="1941.99" y1="717.00" x2="1941.99" y2="686.60" stroke="#00c000" stroke-width="2.6" stroke-linecap="butt"/>
<line x1="1934.49" y1="686.60" x2="1949.49" y2="686.60" stroke="#00c000" stroke-width="2.6" stroke-linecap="butt"/>
<line x1="1965.70" y1="706.90" x2="1965.70" y2="664.90" stroke="#00c000" stroke-width="2.6" stroke-linecap="butt"/>
<line x1="1958.20" y1="664.90" x2="1973.20" y2="664.90" stroke="#00c000" stroke-width="2.6" stroke-linecap="butt"/>
<line x1="1997.31" y1="692.90" x2="1997.31" y2="646.60" stroke="#00c000" stroke-width="2.6" stroke-linecap="butt"/>
<line x1="1989.81" y1="646.60" x2="2004.81" y2="646.60" stroke="#00c000" stroke-width="2.6" stroke-linecap="butt"/>
<line x1="2021.02" y1="677.50" x2="2021.02" y2="622.50" stroke="#00c000" stroke-width="2.6" stroke-linecap="butt"/>
<line x1="2013.52" y1="622.50" x2="2028.52" y2="622.50" stroke="#00c000" stroke-width="2.6" stroke-linecap="butt"/>
<line x1="2052.63" y1="663.50" x2="2052.63" y2="595.90" stroke="#00c000" stroke-width="2.6" stroke-linecap="butt"/>
<line x1="2045.13" y1="595.90" x2="2060.13" y2="595.90" stroke="#00c000" stroke-width="2.6" stroke-linecap="butt"/>
<polyline fill="none" stroke="#00c000" stroke-width="2.4" stroke-linejoin="miter" points="1362.7,774.8 1386.4,774.8 1410.1,774.8 1441.7,774.8 1465.4,774.8 1505.0,774.8 1528.7,773.0 1552.4,773.0 1576.1,773.0 1610.1,770.0 1633.8,767.5 1665.4,767.0 1689.1,765.3 1728.6,759.8 1752.3,753.4 1776.0,748.0 1799.7,741.6 1831.3,738.9 1855.1,738.7 1886.7,731.5 1910.4,722.8 1942.0,717.0 1965.7,706.9 1997.3,692.9 2021.0,677.5 2052.6,663.5"/>
<rect x="1353.70" y="765.80" width="18.00" height="18.00" fill="#00c000"/>
<rect x="1377.41" y="765.80" width="18.00" height="18.00" fill="#00c000"/>
<rect x="1401.12" y="765.80" width="18.00" height="18.00" fill="#00c000"/>
<rect x="1432.73" y="765.80" width="18.00" height="18.00" fill="#00c000"/>
<rect x="1456.44" y="765.80" width="18.00" height="18.00" fill="#00c000"/>
<rect x="1495.95" y="765.80" width="18.00" height="18.00" fill="#00c000"/>
<rect x="1519.66" y="764.00" width="18.00" height="18.00" fill="#00c000"/>
<rect x="1543.37" y="764.00" width="18.00" height="18.00" fill="#00c000"/>
<rect x="1567.08" y="764.00" width="18.00" height="18.00" fill="#00c000"/>
<rect x="1601.06" y="761.00" width="18.00" height="18.00" fill="#00c000"/>
<rect x="1624.77" y="758.50" width="18.00" height="18.00" fill="#00c000"/>
<rect x="1656.38" y="758.00" width="18.00" height="18.00" fill="#00c000"/>
<rect x="1680.09" y="756.30" width="18.00" height="18.00" fill="#00c000"/>
<rect x="1719.61" y="750.80" width="18.00" height="18.00" fill="#00c000"/>
<rect x="1743.32" y="744.40" width="18.00" height="18.00" fill="#00c000"/>
<rect x="1767.03" y="739.00" width="18.00" height="18.00" fill="#00c000"/>
<rect x="1790.74" y="732.60" width="18.00" height="18.00" fill="#00c000"/>
<rect x="1822.35" y="729.90" width="18.00" height="18.00" fill="#00c000"/>
<rect x="1846.06" y="729.70" width="18.00" height="18.00" fill="#00c000"/>
<rect x="1877.67" y="722.50" width="18.00" height="18.00" fill="#00c000"/>
<rect x="1901.38" y="713.80" width="18.00" height="18.00" fill="#00c000"/>
<rect x="1932.99" y="708.00" width="18.00" height="18.00" fill="#00c000"/>
<rect x="1956.70" y="697.90" width="18.00" height="18.00" fill="#00c000"/>
<rect x="1988.31" y="683.90" width="18.00" height="18.00" fill="#00c000"/>
<rect x="2012.02" y="668.50" width="18.00" height="18.00" fill="#00c000"/>
<rect x="2043.63" y="654.50" width="18.00" height="18.00" fill="#00c000"/>
<polyline fill="none" stroke="#ff0000" stroke-width="2.6" stroke-linejoin="miter" points="1362.7,774.3 1386.4,774.3 1410.1,774.3 1441.7,774.3 1465.4,774.3 1505.0,774.3 1528.7,774.3 1552.4,774.3 1576.1,774.3 1610.1,774.3 1633.8,774.3 1665.4,774.3 1689.1,774.3 1728.6,774.3 1752.3,774.3 1776.0,774.3 1799.7,774.3 1831.3,774.3 1855.1,774.3 1886.7,774.3 1910.4,774.3 1942.0,774.3 1965.7,774.3 1997.3,774.3 2021.0,774.3 2052.6,774.3"/>
<polygon fill="#ff0000" points="1362.7,767.3 1369.7,782.6 1355.7,782.6"/>
<polygon fill="#ff0000" points="1386.4,767.3 1393.4,782.6 1379.4,782.6"/>
<polygon fill="#ff0000" points="1410.1,767.3 1417.1,782.6 1403.1,782.6"/>
<polygon fill="#ff0000" points="1441.7,767.3 1448.7,782.6 1434.7,782.6"/>
<polygon fill="#ff0000" points="1465.4,767.3 1472.4,782.6 1458.4,782.6"/>
<polygon fill="#ff0000" points="1505.0,767.3 1512.0,782.6 1498.0,782.6"/>
<polygon fill="#ff0000" points="1528.7,767.3 1535.7,782.6 1521.7,782.6"/>
<polygon fill="#ff0000" points="1552.4,767.3 1559.4,782.6 1545.4,782.6"/>
<polygon fill="#ff0000" points="1576.1,767.3 1583.1,782.6 1569.1,782.6"/>
<polygon fill="#ff0000" points="1610.1,767.3 1617.1,782.6 1603.1,782.6"/>
<polygon fill="#ff0000" points="1633.8,767.3 1640.8,782.6 1626.8,782.6"/>
<polygon fill="#ff0000" points="1665.4,767.3 1672.4,782.6 1658.4,782.6"/>
<polygon fill="#ff0000" points="1689.1,767.3 1696.1,782.6 1682.1,782.6"/>
<polygon fill="#ff0000" points="1728.6,767.3 1735.6,782.6 1721.6,782.6"/>
<polygon fill="#ff0000" points="1752.3,767.3 1759.3,782.6 1745.3,782.6"/>
<polygon fill="#ff0000" points="1776.0,767.3 1783.0,782.6 1769.0,782.6"/>
<polygon fill="#ff0000" points="1799.7,767.3 1806.7,782.6 1792.7,782.6"/>
<polygon fill="#ff0000" points="1831.3,767.3 1838.3,782.6 1824.3,782.6"/>
<polygon fill="#ff0000" points="1855.1,767.3 1862.1,782.6 1848.1,782.6"/>
<polygon fill="#ff0000" points="1886.7,767.3 1893.7,782.6 1879.7,782.6"/>
<polygon fill="#ff0000" points="1910.4,767.3 1917.4,782.6 1903.4,782.6"/>
<polygon fill="#ff0000" points="1942.0,767.3 1949.0,782.6 1935.0,782.6"/>
<polygon fill="#ff0000" points="1965.7,767.3 1972.7,782.6 1958.7,782.6"/>
<polygon fill="#ff0000" points="1997.3,767.3 2004.3,782.6 1990.3,782.6"/>
<polygon fill="#ff0000" points="2021.0,767.3 2028.0,782.6 2014.0,782.6"/>
<polygon fill="#ff0000" points="2052.6,767.3 2059.6,782.6 2045.6,782.6"/>
<text x="1267.97" y="784.95" font-size="33.86" font-weight="normal" fill="#000" stroke="#000" stroke-width="1.3" stroke-linejoin="round" textLength="49.98" lengthAdjust="spacingAndGlyphs">0.0</text>
<text x="1267.97" y="687.35" font-size="33.86" font-weight="normal" fill="#000" stroke="#000" stroke-width="1.3" stroke-linejoin="round" textLength="49.98" lengthAdjust="spacingAndGlyphs">0.5</text>
<text x="1268.56" y="589.75" font-size="33.86" font-weight="normal" fill="#000" stroke="#000" stroke-width="1.3" stroke-linejoin="round" textLength="49.37" lengthAdjust="spacingAndGlyphs">1.0</text>
<text x="1268.56" y="492.15" font-size="34.35" font-weight="normal" fill="#000" stroke="#000" stroke-width="1.3" stroke-linejoin="round" textLength="49.37" lengthAdjust="spacingAndGlyphs">1.5</text>
<text x="1267.22" y="394.55" font-size="33.86" font-weight="normal" fill="#000" stroke="#000" stroke-width="1.3" stroke-linejoin="round" textLength="50.74" lengthAdjust="spacingAndGlyphs">2.0</text>
<text x="1267.22" y="296.95" font-size="33.86" font-weight="normal" fill="#000" stroke="#000" stroke-width="1.3" stroke-linejoin="round" textLength="50.74" lengthAdjust="spacingAndGlyphs">2.5</text>
<text x="1353.11" y="831.65" font-size="33.57" font-weight="normal" fill="#000" stroke="#000" stroke-width="1.3" stroke-linejoin="round" textLength="18.39" lengthAdjust="spacingAndGlyphs">0</text>
<text x="1419.87" y="831.65" font-size="33.57" font-weight="normal" fill="#000" stroke="#000" stroke-width="1.3" stroke-linejoin="round" textLength="41.46" lengthAdjust="spacingAndGlyphs">10</text>
<text x="1499.68" y="831.65" font-size="33.57" font-weight="normal" fill="#000" stroke="#000" stroke-width="1.3" stroke-linejoin="round" textLength="40.65" lengthAdjust="spacingAndGlyphs">20</text>
<text x="1579.46" y="831.65" font-size="33.57" font-weight="normal" fill="#000" stroke="#000" stroke-width="1.3" stroke-linejoin="round" textLength="39.87" lengthAdjust="spacingAndGlyphs">30</text>
<text x="1658.86" y="831.65" font-size="33.57" font-weight="normal" fill="#000" stroke="#000" stroke-width="1.3" stroke-linejoin="round" textLength="39.49" lengthAdjust="spacingAndGlyphs">40</text>
<text x="1737.15" y="831.65" font-size="33.57" font-weight="normal" fill="#000" stroke="#000" stroke-width="1.3" stroke-linejoin="round" textLength="40.26" lengthAdjust="spacingAndGlyphs">50</text>
<text x="1815.80" y="831.65" font-size="33.57" font-weight="normal" fill="#000" stroke="#000" stroke-width="1.3" stroke-linejoin="round" textLength="40.65" lengthAdjust="spacingAndGlyphs">60</text>
<text x="1894.83" y="831.65" font-size="33.57" font-weight="normal" fill="#000" stroke="#000" stroke-width="1.3" stroke-linejoin="round" textLength="40.65" lengthAdjust="spacingAndGlyphs">70</text>
<text x="1974.24" y="831.65" font-size="33.57" font-weight="normal" fill="#000" stroke="#000" stroke-width="1.3" stroke-linejoin="round" textLength="40.26" lengthAdjust="spacingAndGlyphs">80</text>
<text x="2053.27" y="831.65" font-size="33.57" font-weight="normal" fill="#000" stroke="#000" stroke-width="1.3" stroke-linejoin="round" textLength="40.26" lengthAdjust="spacingAndGlyphs">90</text>
<text x="1475.91" y="916.50" font-size="39.11" font-weight="bold" fill="#000" textLength="463.01" lengthAdjust="spacingAndGlyphs">Days after cell injection</text>
<text transform="translate(1200.10,721.00) rotate(-90)" x="-0.41" y="0" font-size="41.62" font-weight="bold" fill="#000" textLength="364.34" lengthAdjust="spacingAndGlyphs">Tumor volume (cm</text>
<text transform="translate(1178.50,366.00) rotate(-90)" x="-0.71" y="0" font-size="25.43" font-weight="normal" fill="#000" stroke="#000" stroke-width="0.8" stroke-linejoin="round" textLength="13.17" lengthAdjust="spacingAndGlyphs">3</text>
<text transform="translate(1200.00,348.00) rotate(-90)" x="0.00" y="0" font-size="42.60" font-weight="bold" fill="#000" textLength="10.56" lengthAdjust="spacingAndGlyphs">)</text>
<text transform="translate(1250.50,648.30) rotate(-90)" x="-2.51" y="0" font-size="40.50" font-weight="bold" fill="#000" textLength="244.05" lengthAdjust="spacingAndGlyphs">Mean ± SEM</text>
<line x1="270.60" y1="1702.95" x2="278.80" y2="1702.95" stroke="#000" stroke-width="4.8" stroke-linecap="butt"/>
<line x1="263.30" y1="1683.70" x2="278.80" y2="1683.70" stroke="#000" stroke-width="4.8" stroke-linecap="butt"/>
<line x1="270.60" y1="1664.45" x2="278.80" y2="1664.45" stroke="#000" stroke-width="4.8" stroke-linecap="butt"/>
<line x1="270.60" y1="1645.20" x2="278.80" y2="1645.20" stroke="#000" stroke-width="4.8" stroke-linecap="butt"/>
<line x1="270.60" y1="1625.95" x2="278.80" y2="1625.95" stroke="#000" stroke-width="4.8" stroke-linecap="butt"/>
<line x1="270.60" y1="1606.70" x2="278.80" y2="1606.70" stroke="#000" stroke-width="4.8" stroke-linecap="butt"/>
<line x1="263.30" y1="1587.45" x2="278.80" y2="1587.45" stroke="#000" stroke-width="4.8" stroke-linecap="butt"/>
<line x1="270.60" y1="1568.20" x2="278.80" y2="1568.20" stroke="#000" stroke-width="4.8" stroke-linecap="butt"/>
<line x1="270.60" y1="1548.95" x2="278.80" y2="1548.95" stroke="#000" stroke-width="4.8" stroke-linecap="butt"/>
<line x1="270.60" y1="1529.70" x2="278.80" y2="1529.70" stroke="#000" stroke-width="4.8" stroke-linecap="butt"/>
<line x1="270.60" y1="1510.45" x2="278.80" y2="1510.45" stroke="#000" stroke-width="4.8" stroke-linecap="butt"/>
<line x1="263.30" y1="1491.20" x2="278.80" y2="1491.20" stroke="#000" stroke-width="4.8" stroke-linecap="butt"/>
<line x1="270.60" y1="1471.95" x2="278.80" y2="1471.95" stroke="#000" stroke-width="4.8" stroke-linecap="butt"/>
<line x1="270.60" y1="1452.70" x2="278.80" y2="1452.70" stroke="#000" stroke-width="4.8" stroke-linecap="butt"/>
<line x1="270.60" y1="1433.45" x2="278.80" y2="1433.45" stroke="#000" stroke-width="4.8" stroke-linecap="butt"/>
<line x1="270.60" y1="1414.20" x2="278.80" y2="1414.20" stroke="#000" stroke-width="4.8" stroke-linecap="butt"/>
<line x1="263.30" y1="1394.95" x2="278.80" y2="1394.95" stroke="#000" stroke-width="4.8" stroke-linecap="butt"/>
<line x1="270.60" y1="1375.70" x2="278.80" y2="1375.70" stroke="#000" stroke-width="4.8" stroke-linecap="butt"/>
<line x1="270.60" y1="1356.45" x2="278.80" y2="1356.45" stroke="#000" stroke-width="4.8" stroke-linecap="butt"/>
<line x1="270.60" y1="1337.20" x2="278.80" y2="1337.20" stroke="#000" stroke-width="4.8" stroke-linecap="butt"/>
<line x1="270.60" y1="1317.95" x2="278.80" y2="1317.95" stroke="#000" stroke-width="4.8" stroke-linecap="butt"/>
<line x1="263.30" y1="1298.70" x2="278.80" y2="1298.70" stroke="#000" stroke-width="4.8" stroke-linecap="butt"/>
<line x1="270.60" y1="1279.45" x2="278.80" y2="1279.45" stroke="#000" stroke-width="4.8" stroke-linecap="butt"/>
<line x1="270.60" y1="1260.20" x2="278.80" y2="1260.20" stroke="#000" stroke-width="4.8" stroke-linecap="butt"/>
<line x1="270.60" y1="1240.95" x2="278.80" y2="1240.95" stroke="#000" stroke-width="4.8" stroke-linecap="butt"/>
<line x1="270.60" y1="1221.70" x2="278.80" y2="1221.70" stroke="#000" stroke-width="4.8" stroke-linecap="butt"/>
<line x1="263.30" y1="1202.45" x2="278.80" y2="1202.45" stroke="#000" stroke-width="4.8" stroke-linecap="butt"/>
<line x1="282.48" y1="1701.60" x2="282.48" y2="1713.30" stroke="#000" stroke-width="4.4" stroke-linecap="butt"/>
<line x1="293.80" y1="1701.60" x2="293.80" y2="1720.90" stroke="#000" stroke-width="4.4" stroke-linecap="butt"/>
<line x1="305.12" y1="1701.60" x2="305.12" y2="1713.30" stroke="#000" stroke-width="4.4" stroke-linecap="butt"/>
<line x1="316.44" y1="1701.60" x2="316.44" y2="1713.30" stroke="#000" stroke-width="4.4" stroke-linecap="butt"/>
<line x1="327.75" y1="1701.60" x2="327.75" y2="1713.30" stroke="#000" stroke-width="4.4" stroke-linecap="butt"/>
<line x1="339.07" y1="1701.60" x2="339.07" y2="1713.30" stroke="#000" stroke-width="4.4" stroke-linecap="butt"/>
<line x1="350.39" y1="1701.60" x2="350.39" y2="1713.30" stroke="#000" stroke-width="4.4" stroke-linecap="butt"/>
<line x1="361.71" y1="1701.60" x2="361.71" y2="1713.30" stroke="#000" stroke-width="4.4" stroke-linecap="butt"/>
<line x1="373.03" y1="1701.60" x2="373.03" y2="1713.30" stroke="#000" stroke-width="4.4" stroke-linecap="butt"/>
<line x1="384.34" y1="1701.60" x2="384.34" y2="1713.30" stroke="#000" stroke-width="4.4" stroke-linecap="butt"/>
<line x1="395.66" y1="1701.60" x2="395.66" y2="1713.30" stroke="#000" stroke-width="4.4" stroke-linecap="butt"/>
<line x1="406.98" y1="1701.60" x2="406.98" y2="1720.90" stroke="#000" stroke-width="4.4" stroke-linecap="butt"/>
<line x1="418.30" y1="1701.60" x2="418.30" y2="1713.30" stroke="#000" stroke-width="4.4" stroke-linecap="butt"/>
<line x1="429.62" y1="1701.60" x2="429.62" y2="1713.30" stroke="#000" stroke-width="4.4" stroke-linecap="butt"/>
<line x1="440.93" y1="1701.60" x2="440.93" y2="1713.30" stroke="#000" stroke-width="4.4" stroke-linecap="butt"/>
<line x1="452.25" y1="1701.60" x2="452.25" y2="1713.30" stroke="#000" stroke-width="4.4" stroke-linecap="butt"/>
<line x1="463.57" y1="1701.60" x2="463.57" y2="1713.30" stroke="#000" stroke-width="4.4" stroke-linecap="butt"/>
<line x1="474.89" y1="1701.60" x2="474.89" y2="1713.30" stroke="#000" stroke-width="4.4" stroke-linecap="butt"/>
<line x1="486.21" y1="1701.60" x2="486.21" y2="1713.30" stroke="#000" stroke-width="4.4" stroke-linecap="butt"/>
<line x1="497.52" y1="1701.60" x2="497.52" y2="1713.30" stroke="#000" stroke-width="4.4" stroke-linecap="butt"/>
<line x1="508.84" y1="1701.60" x2="508.84" y2="1713.30" stroke="#000" stroke-width="4.4" stroke-linecap="butt"/>
<line x1="520.16" y1="1701.60" x2="520.16" y2="1720.90" stroke="#000" stroke-width="4.4" stroke-linecap="butt"/>
<line x1="531.48" y1="1701.60" x2="531.48" y2="1713.30" stroke="#000" stroke-width="4.4" stroke-linecap="butt"/>
<line x1="542.80" y1="1701.60" x2="542.80" y2="1713.30" stroke="#000" stroke-width="4.4" stroke-linecap="butt"/>
<line x1="554.11" y1="1701.60" x2="554.11" y2="1713.30" stroke="#000" stroke-width="4.4" stroke-linecap="butt"/>
<line x1="565.43" y1="1701.60" x2="565.43" y2="1713.30" stroke="#000" stroke-width="4.4" stroke-linecap="butt"/>
<line x1="576.75" y1="1701.60" x2="576.75" y2="1713.30" stroke="#000" stroke-width="4.4" stroke-linecap="butt"/>
<line x1="588.07" y1="1701.60" x2="588.07" y2="1713.30" stroke="#000" stroke-width="4.4" stroke-linecap="butt"/>
<line x1="599.39" y1="1701.60" x2="599.39" y2="1713.30" stroke="#000" stroke-width="4.4" stroke-linecap="butt"/>
<line x1="610.70" y1="1701.60" x2="610.70" y2="1713.30" stroke="#000" stroke-width="4.4" stroke-linecap="butt"/>
<line x1="622.02" y1="1701.60" x2="622.02" y2="1713.30" stroke="#000" stroke-width="4.4" stroke-linecap="butt"/>
<line x1="633.34" y1="1701.60" x2="633.34" y2="1720.90" stroke="#000" stroke-width="4.4" stroke-linecap="butt"/>
<line x1="644.66" y1="1701.60" x2="644.66" y2="1713.30" stroke="#000" stroke-width="4.4" stroke-linecap="butt"/>
<line x1="655.98" y1="1701.60" x2="655.98" y2="1713.30" stroke="#000" stroke-width="4.4" stroke-linecap="butt"/>
<line x1="667.29" y1="1701.60" x2="667.29" y2="1713.30" stroke="#000" stroke-width="4.4" stroke-linecap="butt"/>
<line x1="678.61" y1="1701.60" x2="678.61" y2="1713.30" stroke="#000" stroke-width="4.4" stroke-linecap="butt"/>
<line x1="689.93" y1="1701.60" x2="689.93" y2="1713.30" stroke="#000" stroke-width="4.4" stroke-linecap="butt"/>
<line x1="701.25" y1="1701.60" x2="701.25" y2="1713.30" stroke="#000" stroke-width="4.4" stroke-linecap="butt"/>
<line x1="712.57" y1="1701.60" x2="712.57" y2="1713.30" stroke="#000" stroke-width="4.4" stroke-linecap="butt"/>
<line x1="723.88" y1="1701.60" x2="723.88" y2="1713.30" stroke="#000" stroke-width="4.4" stroke-linecap="butt"/>
<line x1="735.20" y1="1701.60" x2="735.20" y2="1713.30" stroke="#000" stroke-width="4.4" stroke-linecap="butt"/>
<line x1="746.52" y1="1701.60" x2="746.52" y2="1720.90" stroke="#000" stroke-width="4.4" stroke-linecap="butt"/>
<line x1="757.84" y1="1701.60" x2="757.84" y2="1713.30" stroke="#000" stroke-width="4.4" stroke-linecap="butt"/>
<line x1="769.16" y1="1701.60" x2="769.16" y2="1713.30" stroke="#000" stroke-width="4.4" stroke-linecap="butt"/>
<line x1="780.47" y1="1701.60" x2="780.47" y2="1713.30" stroke="#000" stroke-width="4.4" stroke-linecap="butt"/>
<line x1="791.79" y1="1701.60" x2="791.79" y2="1713.30" stroke="#000" stroke-width="4.4" stroke-linecap="butt"/>
<line x1="803.11" y1="1701.60" x2="803.11" y2="1713.30" stroke="#000" stroke-width="4.4" stroke-linecap="butt"/>
<line x1="814.43" y1="1701.60" x2="814.43" y2="1713.30" stroke="#000" stroke-width="4.4" stroke-linecap="butt"/>
<line x1="825.75" y1="1701.60" x2="825.75" y2="1713.30" stroke="#000" stroke-width="4.4" stroke-linecap="butt"/>
<line x1="837.06" y1="1701.60" x2="837.06" y2="1713.30" stroke="#000" stroke-width="4.4" stroke-linecap="butt"/>
<line x1="848.38" y1="1701.60" x2="848.38" y2="1713.30" stroke="#000" stroke-width="4.4" stroke-linecap="butt"/>
<line x1="859.70" y1="1701.60" x2="859.70" y2="1720.90" stroke="#000" stroke-width="4.4" stroke-linecap="butt"/>
<line x1="871.02" y1="1701.60" x2="871.02" y2="1713.30" stroke="#000" stroke-width="4.4" stroke-linecap="butt"/>
<line x1="882.34" y1="1701.60" x2="882.34" y2="1713.30" stroke="#000" stroke-width="4.4" stroke-linecap="butt"/>
<line x1="893.65" y1="1701.60" x2="893.65" y2="1713.30" stroke="#000" stroke-width="4.4" stroke-linecap="butt"/>
<line x1="904.97" y1="1701.60" x2="904.97" y2="1713.30" stroke="#000" stroke-width="4.4" stroke-linecap="butt"/>
<line x1="916.29" y1="1701.60" x2="916.29" y2="1713.30" stroke="#000" stroke-width="4.4" stroke-linecap="butt"/>
<line x1="927.61" y1="1701.60" x2="927.61" y2="1713.30" stroke="#000" stroke-width="4.4" stroke-linecap="butt"/>
<line x1="938.93" y1="1701.60" x2="938.93" y2="1713.30" stroke="#000" stroke-width="4.4" stroke-linecap="butt"/>
<line x1="950.24" y1="1701.60" x2="950.24" y2="1713.30" stroke="#000" stroke-width="4.4" stroke-linecap="butt"/>
<line x1="961.56" y1="1701.60" x2="961.56" y2="1713.30" stroke="#000" stroke-width="4.4" stroke-linecap="butt"/>
<line x1="972.88" y1="1701.60" x2="972.88" y2="1720.90" stroke="#000" stroke-width="4.4" stroke-linecap="butt"/>
<line x1="984.20" y1="1701.60" x2="984.20" y2="1713.30" stroke="#000" stroke-width="4.4" stroke-linecap="butt"/>
<line x1="995.52" y1="1701.60" x2="995.52" y2="1713.30" stroke="#000" stroke-width="4.4" stroke-linecap="butt"/>
<line x1="1006.83" y1="1701.60" x2="1006.83" y2="1713.30" stroke="#000" stroke-width="4.4" stroke-linecap="butt"/>
<line x1="1018.15" y1="1701.60" x2="1018.15" y2="1713.30" stroke="#000" stroke-width="4.4" stroke-linecap="butt"/>
<line x1="1029.47" y1="1701.60" x2="1029.47" y2="1713.30" stroke="#000" stroke-width="4.4" stroke-linecap="butt"/>
<line x1="278.80" y1="1199.90" x2="278.80" y2="1704.00" stroke="#000" stroke-width="5.3" stroke-linecap="butt"/>
<line x1="276.30" y1="1701.60" x2="1033.40" y2="1701.60" stroke="#000" stroke-width="5.3" stroke-linecap="butt"/>
<line x1="379.50" y1="1781.40" x2="379.50" y2="1816.50" stroke="#000" stroke-width="4.9" stroke-linecap="butt"/>
<polygon fill="#000" points="379.5,1753.1 391.6,1782.4 367.4,1782.4"/>
<line x1="458.70" y1="1781.40" x2="458.70" y2="1816.50" stroke="#000" stroke-width="4.9" stroke-linecap="butt"/>
<polygon fill="#000" points="458.7,1753.1 470.8,1782.4 446.6,1782.4"/>
<line x1="538.30" y1="1781.40" x2="538.30" y2="1816.50" stroke="#000" stroke-width="4.9" stroke-linecap="butt"/>
<polygon fill="#000" points="538.3,1753.1 550.4,1782.4 526.2,1782.4"/>
<line x1="616.00" y1="1781.40" x2="616.00" y2="1816.50" stroke="#000" stroke-width="4.9" stroke-linecap="butt"/>
<polygon fill="#000" points="616.0,1753.1 628.1,1782.4 603.9,1782.4"/>
<line x1="696.90" y1="1781.40" x2="696.90" y2="1816.50" stroke="#000" stroke-width="4.9" stroke-linecap="butt"/>
<polygon fill="#000" points="696.9,1753.1 709.0,1782.4 684.8,1782.4"/>
<line x1="774.60" y1="1781.40" x2="774.60" y2="1816.50" stroke="#000" stroke-width="4.9" stroke-linecap="butt"/>
<polygon fill="#000" points="774.6,1753.1 786.7,1782.4 762.5,1782.4"/>
<line x1="835.50" y1="1781.40" x2="835.50" y2="1816.50" stroke="#000" stroke-width="4.9" stroke-linecap="butt"/>
<polygon fill="#000" points="835.5,1753.1 847.6,1782.4 823.4,1782.4"/>
<line x1="282.60" y1="1781.40" x2="282.60" y2="1816.50" stroke="#ff0000" stroke-width="4.9" stroke-linecap="butt"/>
<polygon fill="#ff0000" points="282.6,1753.1 294.7,1782.4 270.5,1782.4"/>
<line x1="371.40" y1="1781.40" x2="371.40" y2="1816.50" stroke="#ff0000" stroke-width="4.9" stroke-linecap="butt"/>
<polygon fill="#ff0000" points="371.4,1753.1 383.5,1782.4 359.3,1782.4"/>
<line x1="448.30" y1="1781.40" x2="448.30" y2="1816.50" stroke="#ff0000" stroke-width="4.9" stroke-linecap="butt"/>
<polygon fill="#ff0000" points="448.3,1753.1 460.4,1782.4 436.2,1782.4"/>
<line x1="529.80" y1="1781.40" x2="529.80" y2="1816.50" stroke="#ff0000" stroke-width="4.9" stroke-linecap="butt"/>
<polygon fill="#ff0000" points="529.8,1753.1 541.9,1782.4 517.7,1782.4"/>
<line x1="610.40" y1="1781.40" x2="610.40" y2="1816.50" stroke="#ff0000" stroke-width="4.9" stroke-linecap="butt"/>
<polygon fill="#ff0000" points="610.4,1753.1 622.5,1782.4 598.3,1782.4"/>
<line x1="687.80" y1="1781.40" x2="687.80" y2="1816.50" stroke="#ff0000" stroke-width="4.9" stroke-linecap="butt"/>
<polygon fill="#ff0000" points="687.8,1753.1 699.9,1782.4 675.7,1782.4"/>
<line x1="765.90" y1="1781.40" x2="765.90" y2="1816.50" stroke="#ff0000" stroke-width="4.9" stroke-linecap="butt"/>
<polygon fill="#ff0000" points="765.9,1753.1 778.0,1782.4 753.8,1782.4"/>
<line x1="827.00" y1="1781.40" x2="827.00" y2="1816.50" stroke="#ff0000" stroke-width="4.9" stroke-linecap="butt"/>
<polygon fill="#ff0000" points="827.0,1753.1 839.1,1782.4 814.9,1782.4"/>
<line x1="909.30" y1="1781.40" x2="909.30" y2="1816.50" stroke="#ff0000" stroke-width="4.9" stroke-linecap="butt"/>
<polygon fill="#ff0000" points="909.3,1753.1 921.4,1782.4 897.2,1782.4"/>
<line x1="1331.00" y1="1698.53" x2="1341.30" y2="1698.53" stroke="#000" stroke-width="4.8" stroke-linecap="butt"/>
<line x1="1323.80" y1="1679.00" x2="1341.30" y2="1679.00" stroke="#000" stroke-width="4.8" stroke-linecap="butt"/>
<line x1="1331.00" y1="1659.47" x2="1341.30" y2="1659.47" stroke="#000" stroke-width="4.8" stroke-linecap="butt"/>
<line x1="1331.00" y1="1639.94" x2="1341.30" y2="1639.94" stroke="#000" stroke-width="4.8" stroke-linecap="butt"/>
<line x1="1331.00" y1="1620.41" x2="1341.30" y2="1620.41" stroke="#000" stroke-width="4.8" stroke-linecap="butt"/>
<line x1="1331.00" y1="1600.88" x2="1341.30" y2="1600.88" stroke="#000" stroke-width="4.8" stroke-linecap="butt"/>
<line x1="1323.80" y1="1581.35" x2="1341.30" y2="1581.35" stroke="#000" stroke-width="4.8" stroke-linecap="butt"/>
<line x1="1331.00" y1="1561.82" x2="1341.30" y2="1561.82" stroke="#000" stroke-width="4.8" stroke-linecap="butt"/>
<line x1="1331.00" y1="1542.29" x2="1341.30" y2="1542.29" stroke="#000" stroke-width="4.8" stroke-linecap="butt"/>
<line x1="1331.00" y1="1522.76" x2="1341.30" y2="1522.76" stroke="#000" stroke-width="4.8" stroke-linecap="butt"/>
<line x1="1331.00" y1="1503.23" x2="1341.30" y2="1503.23" stroke="#000" stroke-width="4.8" stroke-linecap="butt"/>
<line x1="1323.80" y1="1483.70" x2="1341.30" y2="1483.70" stroke="#000" stroke-width="4.8" stroke-linecap="butt"/>
<line x1="1331.00" y1="1464.17" x2="1341.30" y2="1464.17" stroke="#000" stroke-width="4.8" stroke-linecap="butt"/>
<line x1="1331.00" y1="1444.64" x2="1341.30" y2="1444.64" stroke="#000" stroke-width="4.8" stroke-linecap="butt"/>
<line x1="1331.00" y1="1425.11" x2="1341.30" y2="1425.11" stroke="#000" stroke-width="4.8" stroke-linecap="butt"/>
<line x1="1331.00" y1="1405.58" x2="1341.30" y2="1405.58" stroke="#000" stroke-width="4.8" stroke-linecap="butt"/>
<line x1="1323.80" y1="1386.05" x2="1341.30" y2="1386.05" stroke="#000" stroke-width="4.8" stroke-linecap="butt"/>
<line x1="1331.00" y1="1366.52" x2="1341.30" y2="1366.52" stroke="#000" stroke-width="4.8" stroke-linecap="butt"/>
<line x1="1331.00" y1="1346.99" x2="1341.30" y2="1346.99" stroke="#000" stroke-width="4.8" stroke-linecap="butt"/>
<line x1="1331.00" y1="1327.46" x2="1341.30" y2="1327.46" stroke="#000" stroke-width="4.8" stroke-linecap="butt"/>
<line x1="1331.00" y1="1307.93" x2="1341.30" y2="1307.93" stroke="#000" stroke-width="4.8" stroke-linecap="butt"/>
<line x1="1323.80" y1="1288.40" x2="1341.30" y2="1288.40" stroke="#000" stroke-width="4.8" stroke-linecap="butt"/>
<line x1="1331.00" y1="1268.87" x2="1341.30" y2="1268.87" stroke="#000" stroke-width="4.8" stroke-linecap="butt"/>
<line x1="1331.00" y1="1249.34" x2="1341.30" y2="1249.34" stroke="#000" stroke-width="4.8" stroke-linecap="butt"/>
<line x1="1331.00" y1="1229.81" x2="1341.30" y2="1229.81" stroke="#000" stroke-width="4.8" stroke-linecap="butt"/>
<line x1="1331.00" y1="1210.28" x2="1341.30" y2="1210.28" stroke="#000" stroke-width="4.8" stroke-linecap="butt"/>
<line x1="1323.80" y1="1190.75" x2="1341.30" y2="1190.75" stroke="#000" stroke-width="4.8" stroke-linecap="butt"/>
<line x1="1345.55" y1="1700.60" x2="1345.55" y2="1709.70" stroke="#000" stroke-width="4.4" stroke-linecap="butt"/>
<line x1="1357.00" y1="1700.60" x2="1357.00" y2="1714.80" stroke="#000" stroke-width="4.4" stroke-linecap="butt"/>
<line x1="1368.45" y1="1700.60" x2="1368.45" y2="1709.70" stroke="#000" stroke-width="4.4" stroke-linecap="butt"/>
<line x1="1379.90" y1="1700.60" x2="1379.90" y2="1709.70" stroke="#000" stroke-width="4.4" stroke-linecap="butt"/>
<line x1="1391.36" y1="1700.60" x2="1391.36" y2="1709.70" stroke="#000" stroke-width="4.4" stroke-linecap="butt"/>
<line x1="1402.81" y1="1700.60" x2="1402.81" y2="1709.70" stroke="#000" stroke-width="4.4" stroke-linecap="butt"/>
<line x1="1414.26" y1="1700.60" x2="1414.26" y2="1709.70" stroke="#000" stroke-width="4.4" stroke-linecap="butt"/>
<line x1="1425.71" y1="1700.60" x2="1425.71" y2="1709.70" stroke="#000" stroke-width="4.4" stroke-linecap="butt"/>
<line x1="1437.16" y1="1700.60" x2="1437.16" y2="1709.70" stroke="#000" stroke-width="4.4" stroke-linecap="butt"/>
<line x1="1448.62" y1="1700.60" x2="1448.62" y2="1709.70" stroke="#000" stroke-width="4.4" stroke-linecap="butt"/>
<line x1="1460.07" y1="1700.60" x2="1460.07" y2="1709.70" stroke="#000" stroke-width="4.4" stroke-linecap="butt"/>
<line x1="1471.52" y1="1700.60" x2="1471.52" y2="1714.80" stroke="#000" stroke-width="4.4" stroke-linecap="butt"/>
<line x1="1482.97" y1="1700.60" x2="1482.97" y2="1709.70" stroke="#000" stroke-width="4.4" stroke-linecap="butt"/>
<line x1="1494.42" y1="1700.60" x2="1494.42" y2="1709.70" stroke="#000" stroke-width="4.4" stroke-linecap="butt"/>
<line x1="1505.88" y1="1700.60" x2="1505.88" y2="1709.70" stroke="#000" stroke-width="4.4" stroke-linecap="butt"/>
<line x1="1517.33" y1="1700.60" x2="1517.33" y2="1709.70" stroke="#000" stroke-width="4.4" stroke-linecap="butt"/>
<line x1="1528.78" y1="1700.60" x2="1528.78" y2="1709.70" stroke="#000" stroke-width="4.4" stroke-linecap="butt"/>
<line x1="1540.23" y1="1700.60" x2="1540.23" y2="1709.70" stroke="#000" stroke-width="4.4" stroke-linecap="butt"/>
<line x1="1551.68" y1="1700.60" x2="1551.68" y2="1709.70" stroke="#000" stroke-width="4.4" stroke-linecap="butt"/>
<line x1="1563.14" y1="1700.60" x2="1563.14" y2="1709.70" stroke="#000" stroke-width="4.4" stroke-linecap="butt"/>
<line x1="1574.59" y1="1700.60" x2="1574.59" y2="1709.70" stroke="#000" stroke-width="4.4" stroke-linecap="butt"/>
<line x1="1586.04" y1="1700.60" x2="1586.04" y2="1714.80" stroke="#000" stroke-width="4.4" stroke-linecap="butt"/>
<line x1="1597.49" y1="1700.60" x2="1597.49" y2="1709.70" stroke="#000" stroke-width="4.4" stroke-linecap="butt"/>
<line x1="1608.94" y1="1700.60" x2="1608.94" y2="1709.70" stroke="#000" stroke-width="4.4" stroke-linecap="butt"/>
<line x1="1620.40" y1="1700.60" x2="1620.40" y2="1709.70" stroke="#000" stroke-width="4.4" stroke-linecap="butt"/>
<line x1="1631.85" y1="1700.60" x2="1631.85" y2="1709.70" stroke="#000" stroke-width="4.4" stroke-linecap="butt"/>
<line x1="1643.30" y1="1700.60" x2="1643.30" y2="1709.70" stroke="#000" stroke-width="4.4" stroke-linecap="butt"/>
<line x1="1654.75" y1="1700.60" x2="1654.75" y2="1709.70" stroke="#000" stroke-width="4.4" stroke-linecap="butt"/>
<line x1="1666.20" y1="1700.60" x2="1666.20" y2="1709.70" stroke="#000" stroke-width="4.4" stroke-linecap="butt"/>
<line x1="1677.66" y1="1700.60" x2="1677.66" y2="1709.70" stroke="#000" stroke-width="4.4" stroke-linecap="butt"/>
<line x1="1689.11" y1="1700.60" x2="1689.11" y2="1709.70" stroke="#000" stroke-width="4.4" stroke-linecap="butt"/>
<line x1="1700.56" y1="1700.60" x2="1700.56" y2="1714.80" stroke="#000" stroke-width="4.4" stroke-linecap="butt"/>
<line x1="1712.01" y1="1700.60" x2="1712.01" y2="1709.70" stroke="#000" stroke-width="4.4" stroke-linecap="butt"/>
<line x1="1723.46" y1="1700.60" x2="1723.46" y2="1709.70" stroke="#000" stroke-width="4.4" stroke-linecap="butt"/>
<line x1="1734.92" y1="1700.60" x2="1734.92" y2="1709.70" stroke="#000" stroke-width="4.4" stroke-linecap="butt"/>
<line x1="1746.37" y1="1700.60" x2="1746.37" y2="1709.70" stroke="#000" stroke-width="4.4" stroke-linecap="butt"/>
<line x1="1757.82" y1="1700.60" x2="1757.82" y2="1709.70" stroke="#000" stroke-width="4.4" stroke-linecap="butt"/>
<line x1="1769.27" y1="1700.60" x2="1769.27" y2="1709.70" stroke="#000" stroke-width="4.4" stroke-linecap="butt"/>
<line x1="1780.72" y1="1700.60" x2="1780.72" y2="1709.70" stroke="#000" stroke-width="4.4" stroke-linecap="butt"/>
<line x1="1792.18" y1="1700.60" x2="1792.18" y2="1709.70" stroke="#000" stroke-width="4.4" stroke-linecap="butt"/>
<line x1="1803.63" y1="1700.60" x2="1803.63" y2="1709.70" stroke="#000" stroke-width="4.4" stroke-linecap="butt"/>
<line x1="1815.08" y1="1700.60" x2="1815.08" y2="1714.80" stroke="#000" stroke-width="4.4" stroke-linecap="butt"/>
<line x1="1826.53" y1="1700.60" x2="1826.53" y2="1709.70" stroke="#000" stroke-width="4.4" stroke-linecap="butt"/>
<line x1="1837.98" y1="1700.60" x2="1837.98" y2="1709.70" stroke="#000" stroke-width="4.4" stroke-linecap="butt"/>
<line x1="1849.44" y1="1700.60" x2="1849.44" y2="1709.70" stroke="#000" stroke-width="4.4" stroke-linecap="butt"/>
<line x1="1860.89" y1="1700.60" x2="1860.89" y2="1709.70" stroke="#000" stroke-width="4.4" stroke-linecap="butt"/>
<line x1="1872.34" y1="1700.60" x2="1872.34" y2="1709.70" stroke="#000" stroke-width="4.4" stroke-linecap="butt"/>
<line x1="1883.79" y1="1700.60" x2="1883.79" y2="1709.70" stroke="#000" stroke-width="4.4" stroke-linecap="butt"/>
<line x1="1895.24" y1="1700.60" x2="1895.24" y2="1709.70" stroke="#000" stroke-width="4.4" stroke-linecap="butt"/>
<line x1="1906.70" y1="1700.60" x2="1906.70" y2="1709.70" stroke="#000" stroke-width="4.4" stroke-linecap="butt"/>
<line x1="1918.15" y1="1700.60" x2="1918.15" y2="1709.70" stroke="#000" stroke-width="4.4" stroke-linecap="butt"/>
<line x1="1929.60" y1="1700.60" x2="1929.60" y2="1714.80" stroke="#000" stroke-width="4.4" stroke-linecap="butt"/>
<line x1="1941.05" y1="1700.60" x2="1941.05" y2="1709.70" stroke="#000" stroke-width="4.4" stroke-linecap="butt"/>
<line x1="1952.50" y1="1700.60" x2="1952.50" y2="1709.70" stroke="#000" stroke-width="4.4" stroke-linecap="butt"/>
<line x1="1963.96" y1="1700.60" x2="1963.96" y2="1709.70" stroke="#000" stroke-width="4.4" stroke-linecap="butt"/>
<line x1="1975.41" y1="1700.60" x2="1975.41" y2="1709.70" stroke="#000" stroke-width="4.4" stroke-linecap="butt"/>
<line x1="1986.86" y1="1700.60" x2="1986.86" y2="1709.70" stroke="#000" stroke-width="4.4" stroke-linecap="butt"/>
<line x1="1998.31" y1="1700.60" x2="1998.31" y2="1709.70" stroke="#000" stroke-width="4.4" stroke-linecap="butt"/>
<line x1="2009.76" y1="1700.60" x2="2009.76" y2="1709.70" stroke="#000" stroke-width="4.4" stroke-linecap="butt"/>
<line x1="2021.22" y1="1700.60" x2="2021.22" y2="1709.70" stroke="#000" stroke-width="4.4" stroke-linecap="butt"/>
<line x1="2032.67" y1="1700.60" x2="2032.67" y2="1709.70" stroke="#000" stroke-width="4.4" stroke-linecap="butt"/>
<line x1="2044.12" y1="1700.60" x2="2044.12" y2="1714.80" stroke="#000" stroke-width="4.4" stroke-linecap="butt"/>
<line x1="2055.57" y1="1700.60" x2="2055.57" y2="1709.70" stroke="#000" stroke-width="4.4" stroke-linecap="butt"/>
<line x1="2067.02" y1="1700.60" x2="2067.02" y2="1709.70" stroke="#000" stroke-width="4.4" stroke-linecap="butt"/>
<line x1="2078.48" y1="1700.60" x2="2078.48" y2="1709.70" stroke="#000" stroke-width="4.4" stroke-linecap="butt"/>
<line x1="2089.93" y1="1700.60" x2="2089.93" y2="1709.70" stroke="#000" stroke-width="4.4" stroke-linecap="butt"/>
<line x1="2101.38" y1="1700.60" x2="2101.38" y2="1709.70" stroke="#000" stroke-width="4.4" stroke-linecap="butt"/>
<line x1="1341.30" y1="1189.00" x2="1341.30" y2="1703.50" stroke="#000" stroke-width="5.3" stroke-linecap="butt"/>
<line x1="1338.70" y1="1700.60" x2="2107.70" y2="1700.60" stroke="#000" stroke-width="5.3" stroke-linecap="butt"/>
<line x1="1444.60" y1="1780.00" x2="1444.60" y2="1814.50" stroke="#000" stroke-width="4.9" stroke-linecap="butt"/>
<polygon fill="#000" points="1444.6,1753.5 1456.7,1781.0 1432.5,1781.0"/>
<line x1="1523.80" y1="1780.00" x2="1523.80" y2="1814.50" stroke="#000" stroke-width="4.9" stroke-linecap="butt"/>
<polygon fill="#000" points="1523.8,1753.5 1535.9,1781.0 1511.7,1781.0"/>
<line x1="1604.00" y1="1780.00" x2="1604.00" y2="1814.50" stroke="#000" stroke-width="4.9" stroke-linecap="butt"/>
<polygon fill="#000" points="1604.0,1753.5 1616.1,1781.0 1591.9,1781.0"/>
<line x1="1684.30" y1="1780.00" x2="1684.30" y2="1814.50" stroke="#000" stroke-width="4.9" stroke-linecap="butt"/>
<polygon fill="#000" points="1684.3,1753.5 1696.4,1781.0 1672.2,1781.0"/>
<line x1="1765.50" y1="1780.00" x2="1765.50" y2="1814.50" stroke="#000" stroke-width="4.9" stroke-linecap="butt"/>
<polygon fill="#000" points="1765.5,1753.5 1777.6,1781.0 1753.4,1781.0"/>
<line x1="1844.90" y1="1780.00" x2="1844.90" y2="1814.50" stroke="#000" stroke-width="4.9" stroke-linecap="butt"/>
<polygon fill="#000" points="1844.9,1753.5 1857.0,1781.0 1832.8,1781.0"/>
<line x1="1905.50" y1="1780.00" x2="1905.50" y2="1814.50" stroke="#000" stroke-width="4.9" stroke-linecap="butt"/>
<polygon fill="#000" points="1905.5,1753.5 1917.6,1781.0 1893.4,1781.0"/>
<line x1="1344.70" y1="1780.00" x2="1344.70" y2="1814.50" stroke="#ff0000" stroke-width="4.9" stroke-linecap="butt"/>
<polygon fill="#ff0000" points="1344.7,1753.5 1356.8,1781.0 1332.6,1781.0"/>
<line x1="1434.60" y1="1780.00" x2="1434.60" y2="1814.50" stroke="#ff0000" stroke-width="4.9" stroke-linecap="butt"/>
<polygon fill="#ff0000" points="1434.6,1753.5 1446.7,1781.0 1422.5,1781.0"/>
<line x1="1513.90" y1="1780.00" x2="1513.90" y2="1814.50" stroke="#ff0000" stroke-width="4.9" stroke-linecap="butt"/>
<polygon fill="#ff0000" points="1513.9,1753.5 1526.0,1781.0 1501.8,1781.0"/>
<line x1="1595.90" y1="1780.00" x2="1595.90" y2="1814.50" stroke="#ff0000" stroke-width="4.9" stroke-linecap="butt"/>
<polygon fill="#ff0000" points="1595.9,1753.5 1608.0,1781.0 1583.8,1781.0"/>
<line x1="1677.60" y1="1780.00" x2="1677.60" y2="1814.50" stroke="#ff0000" stroke-width="4.9" stroke-linecap="butt"/>
<polygon fill="#ff0000" points="1677.6,1753.5 1689.7,1781.0 1665.5,1781.0"/>
<line x1="1755.40" y1="1780.00" x2="1755.40" y2="1814.50" stroke="#ff0000" stroke-width="4.9" stroke-linecap="butt"/>
<polygon fill="#ff0000" points="1755.4,1753.5 1767.5,1781.0 1743.3,1781.0"/>
<line x1="1834.80" y1="1780.00" x2="1834.80" y2="1814.50" stroke="#ff0000" stroke-width="4.9" stroke-linecap="butt"/>
<polygon fill="#ff0000" points="1834.8,1753.5 1846.9,1781.0 1822.7,1781.0"/>
<line x1="1896.90" y1="1780.00" x2="1896.90" y2="1814.50" stroke="#ff0000" stroke-width="4.9" stroke-linecap="butt"/>
<polygon fill="#ff0000" points="1896.9,1753.5 1909.0,1781.0 1884.8,1781.0"/>
<line x1="1980.60" y1="1780.00" x2="1980.60" y2="1814.50" stroke="#ff0000" stroke-width="4.9" stroke-linecap="butt"/>
<polygon fill="#ff0000" points="1980.6,1753.5 1992.7,1781.0 1968.5,1781.0"/>
<line x1="273.00" y1="2702.54" x2="280.80" y2="2702.54" stroke="#000" stroke-width="4.8" stroke-linecap="butt"/>
<line x1="265.80" y1="2683.00" x2="280.80" y2="2683.00" stroke="#000" stroke-width="4.8" stroke-linecap="butt"/>
<line x1="273.00" y1="2663.46" x2="280.80" y2="2663.46" stroke="#000" stroke-width="4.8" stroke-linecap="butt"/>
<line x1="273.00" y1="2643.92" x2="280.80" y2="2643.92" stroke="#000" stroke-width="4.8" stroke-linecap="butt"/>
<line x1="273.00" y1="2624.38" x2="280.80" y2="2624.38" stroke="#000" stroke-width="4.8" stroke-linecap="butt"/>
<line x1="273.00" y1="2604.84" x2="280.80" y2="2604.84" stroke="#000" stroke-width="4.8" stroke-linecap="butt"/>
<line x1="265.80" y1="2585.30" x2="280.80" y2="2585.30" stroke="#000" stroke-width="4.8" stroke-linecap="butt"/>
<line x1="273.00" y1="2565.76" x2="280.80" y2="2565.76" stroke="#000" stroke-width="4.8" stroke-linecap="butt"/>
<line x1="273.00" y1="2546.22" x2="280.80" y2="2546.22" stroke="#000" stroke-width="4.8" stroke-linecap="butt"/>
<line x1="273.00" y1="2526.68" x2="280.80" y2="2526.68" stroke="#000" stroke-width="4.8" stroke-linecap="butt"/>
<line x1="273.00" y1="2507.14" x2="280.80" y2="2507.14" stroke="#000" stroke-width="4.8" stroke-linecap="butt"/>
<line x1="265.80" y1="2487.60" x2="280.80" y2="2487.60" stroke="#000" stroke-width="4.8" stroke-linecap="butt"/>
<line x1="273.00" y1="2468.06" x2="280.80" y2="2468.06" stroke="#000" stroke-width="4.8" stroke-linecap="butt"/>
<line x1="273.00" y1="2448.52" x2="280.80" y2="2448.52" stroke="#000" stroke-width="4.8" stroke-linecap="butt"/>
<line x1="273.00" y1="2428.98" x2="280.80" y2="2428.98" stroke="#000" stroke-width="4.8" stroke-linecap="butt"/>
<line x1="273.00" y1="2409.44" x2="280.80" y2="2409.44" stroke="#000" stroke-width="4.8" stroke-linecap="butt"/>
<line x1="265.80" y1="2389.90" x2="280.80" y2="2389.90" stroke="#000" stroke-width="4.8" stroke-linecap="butt"/>
<line x1="273.00" y1="2370.36" x2="280.80" y2="2370.36" stroke="#000" stroke-width="4.8" stroke-linecap="butt"/>
<line x1="273.00" y1="2350.82" x2="280.80" y2="2350.82" stroke="#000" stroke-width="4.8" stroke-linecap="butt"/>
<line x1="273.00" y1="2331.28" x2="280.80" y2="2331.28" stroke="#000" stroke-width="4.8" stroke-linecap="butt"/>
<line x1="273.00" y1="2311.74" x2="280.80" y2="2311.74" stroke="#000" stroke-width="4.8" stroke-linecap="butt"/>
<line x1="265.80" y1="2292.20" x2="280.80" y2="2292.20" stroke="#000" stroke-width="4.8" stroke-linecap="butt"/>
<line x1="273.00" y1="2272.66" x2="280.80" y2="2272.66" stroke="#000" stroke-width="4.8" stroke-linecap="butt"/>
<line x1="273.00" y1="2253.12" x2="280.80" y2="2253.12" stroke="#000" stroke-width="4.8" stroke-linecap="butt"/>
<line x1="273.00" y1="2233.58" x2="280.80" y2="2233.58" stroke="#000" stroke-width="4.8" stroke-linecap="butt"/>
<line x1="273.00" y1="2214.04" x2="280.80" y2="2214.04" stroke="#000" stroke-width="4.8" stroke-linecap="butt"/>
<line x1="265.80" y1="2194.50" x2="280.80" y2="2194.50" stroke="#000" stroke-width="4.8" stroke-linecap="butt"/>
<line x1="285.36" y1="2703.00" x2="285.36" y2="2713.30" stroke="#000" stroke-width="4.4" stroke-linecap="butt"/>
<line x1="296.80" y1="2703.00" x2="296.80" y2="2720.00" stroke="#000" stroke-width="4.4" stroke-linecap="butt"/>
<line x1="308.24" y1="2703.00" x2="308.24" y2="2713.30" stroke="#000" stroke-width="4.4" stroke-linecap="butt"/>
<line x1="319.68" y1="2703.00" x2="319.68" y2="2713.30" stroke="#000" stroke-width="4.4" stroke-linecap="butt"/>
<line x1="331.12" y1="2703.00" x2="331.12" y2="2713.30" stroke="#000" stroke-width="4.4" stroke-linecap="butt"/>
<line x1="342.56" y1="2703.00" x2="342.56" y2="2713.30" stroke="#000" stroke-width="4.4" stroke-linecap="butt"/>
<line x1="354.00" y1="2703.00" x2="354.00" y2="2713.30" stroke="#000" stroke-width="4.4" stroke-linecap="butt"/>
<line x1="365.44" y1="2703.00" x2="365.44" y2="2713.30" stroke="#000" stroke-width="4.4" stroke-linecap="butt"/>
<line x1="376.88" y1="2703.00" x2="376.88" y2="2713.30" stroke="#000" stroke-width="4.4" stroke-linecap="butt"/>
<line x1="388.32" y1="2703.00" x2="388.32" y2="2713.30" stroke="#000" stroke-width="4.4" stroke-linecap="butt"/>
<line x1="399.76" y1="2703.00" x2="399.76" y2="2713.30" stroke="#000" stroke-width="4.4" stroke-linecap="butt"/>
<line x1="411.20" y1="2703.00" x2="411.20" y2="2720.00" stroke="#000" stroke-width="4.4" stroke-linecap="butt"/>
<line x1="422.64" y1="2703.00" x2="422.64" y2="2713.30" stroke="#000" stroke-width="4.4" stroke-linecap="butt"/>
<line x1="434.08" y1="2703.00" x2="434.08" y2="2713.30" stroke="#000" stroke-width="4.4" stroke-linecap="butt"/>
<line x1="445.52" y1="2703.00" x2="445.52" y2="2713.30" stroke="#000" stroke-width="4.4" stroke-linecap="butt"/>
<line x1="456.96" y1="2703.00" x2="456.96" y2="2713.30" stroke="#000" stroke-width="4.4" stroke-linecap="butt"/>
<line x1="468.40" y1="2703.00" x2="468.40" y2="2713.30" stroke="#000" stroke-width="4.4" stroke-linecap="butt"/>
<line x1="479.84" y1="2703.00" x2="479.84" y2="2713.30" stroke="#000" stroke-width="4.4" stroke-linecap="butt"/>
<line x1="491.28" y1="2703.00" x2="491.28" y2="2713.30" stroke="#000" stroke-width="4.4" stroke-linecap="butt"/>
<line x1="502.72" y1="2703.00" x2="502.72" y2="2713.30" stroke="#000" stroke-width="4.4" stroke-linecap="butt"/>
<line x1="514.16" y1="2703.00" x2="514.16" y2="2713.30" stroke="#000" stroke-width="4.4" stroke-linecap="butt"/>
<line x1="525.60" y1="2703.00" x2="525.60" y2="2720.00" stroke="#000" stroke-width="4.4" stroke-linecap="butt"/>
<line x1="537.04" y1="2703.00" x2="537.04" y2="2713.30" stroke="#000" stroke-width="4.4" stroke-linecap="butt"/>
<line x1="548.48" y1="2703.00" x2="548.48" y2="2713.30" stroke="#000" stroke-width="4.4" stroke-linecap="butt"/>
<line x1="559.92" y1="2703.00" x2="559.92" y2="2713.30" stroke="#000" stroke-width="4.4" stroke-linecap="butt"/>
<line x1="571.36" y1="2703.00" x2="571.36" y2="2713.30" stroke="#000" stroke-width="4.4" stroke-linecap="butt"/>
<line x1="582.80" y1="2703.00" x2="582.80" y2="2713.30" stroke="#000" stroke-width="4.4" stroke-linecap="butt"/>
<line x1="594.24" y1="2703.00" x2="594.24" y2="2713.30" stroke="#000" stroke-width="4.4" stroke-linecap="butt"/>
<line x1="605.68" y1="2703.00" x2="605.68" y2="2713.30" stroke="#000" stroke-width="4.4" stroke-linecap="butt"/>
<line x1="617.12" y1="2703.00" x2="617.12" y2="2713.30" stroke="#000" stroke-width="4.4" stroke-linecap="butt"/>
<line x1="628.56" y1="2703.00" x2="628.56" y2="2713.30" stroke="#000" stroke-width="4.4" stroke-linecap="butt"/>
<line x1="640.00" y1="2703.00" x2="640.00" y2="2720.00" stroke="#000" stroke-width="4.4" stroke-linecap="butt"/>
<line x1="651.44" y1="2703.00" x2="651.44" y2="2713.30" stroke="#000" stroke-width="4.4" stroke-linecap="butt"/>
<line x1="662.88" y1="2703.00" x2="662.88" y2="2713.30" stroke="#000" stroke-width="4.4" stroke-linecap="butt"/>
<line x1="674.32" y1="2703.00" x2="674.32" y2="2713.30" stroke="#000" stroke-width="4.4" stroke-linecap="butt"/>
<line x1="685.76" y1="2703.00" x2="685.76" y2="2713.30" stroke="#000" stroke-width="4.4" stroke-linecap="butt"/>
<line x1="697.20" y1="2703.00" x2="697.20" y2="2713.30" stroke="#000" stroke-width="4.4" stroke-linecap="butt"/>
<line x1="708.64" y1="2703.00" x2="708.64" y2="2713.30" stroke="#000" stroke-width="4.4" stroke-linecap="butt"/>
<line x1="720.08" y1="2703.00" x2="720.08" y2="2713.30" stroke="#000" stroke-width="4.4" stroke-linecap="butt"/>
<line x1="731.52" y1="2703.00" x2="731.52" y2="2713.30" stroke="#000" stroke-width="4.4" stroke-linecap="butt"/>
<line x1="742.96" y1="2703.00" x2="742.96" y2="2713.30" stroke="#000" stroke-width="4.4" stroke-linecap="butt"/>
<line x1="754.40" y1="2703.00" x2="754.40" y2="2720.00" stroke="#000" stroke-width="4.4" stroke-linecap="butt"/>
<line x1="765.84" y1="2703.00" x2="765.84" y2="2713.30" stroke="#000" stroke-width="4.4" stroke-linecap="butt"/>
<line x1="777.28" y1="2703.00" x2="777.28" y2="2713.30" stroke="#000" stroke-width="4.4" stroke-linecap="butt"/>
<line x1="788.72" y1="2703.00" x2="788.72" y2="2713.30" stroke="#000" stroke-width="4.4" stroke-linecap="butt"/>
<line x1="800.16" y1="2703.00" x2="800.16" y2="2713.30" stroke="#000" stroke-width="4.4" stroke-linecap="butt"/>
<line x1="811.60" y1="2703.00" x2="811.60" y2="2713.30" stroke="#000" stroke-width="4.4" stroke-linecap="butt"/>
<line x1="823.04" y1="2703.00" x2="823.04" y2="2713.30" stroke="#000" stroke-width="4.4" stroke-linecap="butt"/>
<line x1="834.48" y1="2703.00" x2="834.48" y2="2713.30" stroke="#000" stroke-width="4.4" stroke-linecap="butt"/>
<line x1="845.92" y1="2703.00" x2="845.92" y2="2713.30" stroke="#000" stroke-width="4.4" stroke-linecap="butt"/>
<line x1="857.36" y1="2703.00" x2="857.36" y2="2713.30" stroke="#000" stroke-width="4.4" stroke-linecap="butt"/>
<line x1="868.80" y1="2703.00" x2="868.80" y2="2720.00" stroke="#000" stroke-width="4.4" stroke-linecap="butt"/>
<line x1="880.24" y1="2703.00" x2="880.24" y2="2713.30" stroke="#000" stroke-width="4.4" stroke-linecap="butt"/>
<line x1="891.68" y1="2703.00" x2="891.68" y2="2713.30" stroke="#000" stroke-width="4.4" stroke-linecap="butt"/>
<line x1="903.12" y1="2703.00" x2="903.12" y2="2713.30" stroke="#000" stroke-width="4.4" stroke-linecap="butt"/>
<line x1="914.56" y1="2703.00" x2="914.56" y2="2713.30" stroke="#000" stroke-width="4.4" stroke-linecap="butt"/>
<line x1="926.00" y1="2703.00" x2="926.00" y2="2713.30" stroke="#000" stroke-width="4.4" stroke-linecap="butt"/>
<line x1="937.44" y1="2703.00" x2="937.44" y2="2713.30" stroke="#000" stroke-width="4.4" stroke-linecap="butt"/>
<line x1="948.88" y1="2703.00" x2="948.88" y2="2713.30" stroke="#000" stroke-width="4.4" stroke-linecap="butt"/>
<line x1="960.32" y1="2703.00" x2="960.32" y2="2713.30" stroke="#000" stroke-width="4.4" stroke-linecap="butt"/>
<line x1="971.76" y1="2703.00" x2="971.76" y2="2713.30" stroke="#000" stroke-width="4.4" stroke-linecap="butt"/>
<line x1="983.20" y1="2703.00" x2="983.20" y2="2720.00" stroke="#000" stroke-width="4.4" stroke-linecap="butt"/>
<line x1="994.64" y1="2703.00" x2="994.64" y2="2713.30" stroke="#000" stroke-width="4.4" stroke-linecap="butt"/>
<line x1="1006.08" y1="2703.00" x2="1006.08" y2="2713.30" stroke="#000" stroke-width="4.4" stroke-linecap="butt"/>
<line x1="1017.52" y1="2703.00" x2="1017.52" y2="2713.30" stroke="#000" stroke-width="4.4" stroke-linecap="butt"/>
<line x1="1028.96" y1="2703.00" x2="1028.96" y2="2713.30" stroke="#000" stroke-width="4.4" stroke-linecap="butt"/>
<line x1="1040.40" y1="2703.00" x2="1040.40" y2="2713.30" stroke="#000" stroke-width="4.4" stroke-linecap="butt"/>
<line x1="280.80" y1="2192.60" x2="280.80" y2="2705.50" stroke="#000" stroke-width="5.3" stroke-linecap="butt"/>
<line x1="278.20" y1="2703.00" x2="1046.40" y2="2703.00" stroke="#000" stroke-width="5.3" stroke-linecap="butt"/>
<line x1="384.60" y1="2781.50" x2="384.60" y2="2817.00" stroke="#000" stroke-width="4.9" stroke-linecap="butt"/>
<polygon fill="#000" points="384.6,2754.0 396.7,2782.5 372.5,2782.5"/>
<line x1="463.30" y1="2781.50" x2="463.30" y2="2817.00" stroke="#000" stroke-width="4.9" stroke-linecap="butt"/>
<polygon fill="#000" points="463.3,2754.0 475.4,2782.5 451.2,2782.5"/>
<line x1="543.50" y1="2781.50" x2="543.50" y2="2817.00" stroke="#000" stroke-width="4.9" stroke-linecap="butt"/>
<polygon fill="#000" points="543.5,2754.0 555.6,2782.5 531.4,2782.5"/>
<line x1="623.00" y1="2781.50" x2="623.00" y2="2817.00" stroke="#000" stroke-width="4.9" stroke-linecap="butt"/>
<polygon fill="#000" points="623.0,2754.0 635.1,2782.5 610.9,2782.5"/>
<line x1="705.30" y1="2781.50" x2="705.30" y2="2817.00" stroke="#000" stroke-width="4.9" stroke-linecap="butt"/>
<polygon fill="#000" points="705.3,2754.0 717.4,2782.5 693.2,2782.5"/>
<line x1="784.60" y1="2781.50" x2="784.60" y2="2817.00" stroke="#000" stroke-width="4.9" stroke-linecap="butt"/>
<polygon fill="#000" points="784.6,2754.0 796.7,2782.5 772.5,2782.5"/>
<line x1="845.80" y1="2781.50" x2="845.80" y2="2817.00" stroke="#000" stroke-width="4.9" stroke-linecap="butt"/>
<polygon fill="#000" points="845.8,2754.0 857.9,2782.5 833.7,2782.5"/>
<line x1="284.70" y1="2781.50" x2="284.70" y2="2817.00" stroke="#ff0000" stroke-width="4.9" stroke-linecap="butt"/>
<polygon fill="#ff0000" points="284.7,2754.0 296.8,2782.5 272.6,2782.5"/>
<line x1="374.00" y1="2781.50" x2="374.00" y2="2817.00" stroke="#ff0000" stroke-width="4.9" stroke-linecap="butt"/>
<polygon fill="#ff0000" points="374.0,2754.0 386.1,2782.5 361.9,2782.5"/>
<line x1="453.60" y1="2781.50" x2="453.60" y2="2817.00" stroke="#ff0000" stroke-width="4.9" stroke-linecap="butt"/>
<polygon fill="#ff0000" points="453.6,2754.0 465.7,2782.5 441.5,2782.5"/>
<line x1="535.90" y1="2781.50" x2="535.90" y2="2817.00" stroke="#ff0000" stroke-width="4.9" stroke-linecap="butt"/>
<polygon fill="#ff0000" points="535.9,2754.0 548.0,2782.5 523.8,2782.5"/>
<line x1="617.60" y1="2781.50" x2="617.60" y2="2817.00" stroke="#ff0000" stroke-width="4.9" stroke-linecap="butt"/>
<polygon fill="#ff0000" points="617.6,2754.0 629.7,2782.5 605.5,2782.5"/>
<line x1="694.70" y1="2781.50" x2="694.70" y2="2817.00" stroke="#ff0000" stroke-width="4.9" stroke-linecap="butt"/>
<polygon fill="#ff0000" points="694.7,2754.0 706.8,2782.5 682.6,2782.5"/>
<line x1="774.00" y1="2781.50" x2="774.00" y2="2817.00" stroke="#ff0000" stroke-width="4.9" stroke-linecap="butt"/>
<polygon fill="#ff0000" points="774.0,2754.0 786.1,2782.5 761.9,2782.5"/>
<line x1="836.70" y1="2781.50" x2="836.70" y2="2817.00" stroke="#ff0000" stroke-width="4.9" stroke-linecap="butt"/>
<polygon fill="#ff0000" points="836.7,2754.0 848.8,2782.5 824.6,2782.5"/>
<line x1="921.40" y1="2781.50" x2="921.40" y2="2817.00" stroke="#ff0000" stroke-width="4.9" stroke-linecap="butt"/>
<polygon fill="#ff0000" points="921.4,2754.0 933.5,2782.5 909.3,2782.5"/>
<rect x="0.00" y="1112.00" width="3.50" height="90.00" fill="#f7f7f7"/>
<rect x="0.00" y="2138.00" width="3.50" height="88.00" fill="#f7f7f7"/>
<text x="207.36" y="1696.75" font-size="33.86" font-weight="normal" fill="#000" stroke="#000" stroke-width="1.3" stroke-linejoin="round" textLength="50.50" lengthAdjust="spacingAndGlyphs">0.0</text>
<text x="207.36" y="1600.50" font-size="33.86" font-weight="normal" fill="#000" stroke="#000" stroke-width="1.3" stroke-linejoin="round" textLength="50.50" lengthAdjust="spacingAndGlyphs">0.5</text>
<text x="207.94" y="1504.25" font-size="33.86" font-weight="normal" fill="#000" stroke="#000" stroke-width="1.3" stroke-linejoin="round" textLength="49.91" lengthAdjust="spacingAndGlyphs">1.0</text>
<text x="207.94" y="1408.00" font-size="34.35" font-weight="normal" fill="#000" stroke="#000" stroke-width="1.3" stroke-linejoin="round" textLength="49.91" lengthAdjust="spacingAndGlyphs">1.5</text>
<text x="206.61" y="1311.75" font-size="33.86" font-weight="normal" fill="#000" stroke="#000" stroke-width="1.3" stroke-linejoin="round" textLength="51.28" lengthAdjust="spacingAndGlyphs">2.0</text>
<text x="206.61" y="1215.50" font-size="33.86" font-weight="normal" fill="#000" stroke="#000" stroke-width="1.3" stroke-linejoin="round" textLength="51.28" lengthAdjust="spacingAndGlyphs">2.5</text>
<text x="283.98" y="1756.45" font-size="33.86" font-weight="normal" fill="#000" stroke="#000" stroke-width="1.3" stroke-linejoin="round" textLength="19.86" lengthAdjust="spacingAndGlyphs">0</text>
<text x="385.20" y="1756.45" font-size="33.86" font-weight="normal" fill="#000" stroke="#000" stroke-width="1.3" stroke-linejoin="round" textLength="43.03" lengthAdjust="spacingAndGlyphs">20</text>
<text x="499.56" y="1756.45" font-size="33.86" font-weight="normal" fill="#000" stroke="#000" stroke-width="1.3" stroke-linejoin="round" textLength="41.81" lengthAdjust="spacingAndGlyphs">40</text>
<text x="611.56" y="1756.45" font-size="33.86" font-weight="normal" fill="#000" stroke="#000" stroke-width="1.3" stroke-linejoin="round" textLength="43.03" lengthAdjust="spacingAndGlyphs">60</text>
<text x="725.14" y="1756.45" font-size="33.86" font-weight="normal" fill="#000" stroke="#000" stroke-width="1.3" stroke-linejoin="round" textLength="42.62" lengthAdjust="spacingAndGlyphs">80</text>
<text x="827.99" y="1756.45" font-size="33.86" font-weight="normal" fill="#000" stroke="#000" stroke-width="1.3" stroke-linejoin="round" textLength="62.15" lengthAdjust="spacingAndGlyphs">100</text>
<text x="941.17" y="1756.45" font-size="33.86" font-weight="normal" fill="#000" stroke="#000" stroke-width="1.3" stroke-linejoin="round" textLength="62.15" lengthAdjust="spacingAndGlyphs">120</text>
<text x="1267.76" y="1692.05" font-size="33.86" font-weight="normal" fill="#000" stroke="#000" stroke-width="1.3" stroke-linejoin="round" textLength="50.50" lengthAdjust="spacingAndGlyphs">0.0</text>
<text x="1267.76" y="1594.40" font-size="33.86" font-weight="normal" fill="#000" stroke="#000" stroke-width="1.3" stroke-linejoin="round" textLength="50.50" lengthAdjust="spacingAndGlyphs">0.5</text>
<text x="1268.34" y="1496.75" font-size="33.86" font-weight="normal" fill="#000" stroke="#000" stroke-width="1.3" stroke-linejoin="round" textLength="49.91" lengthAdjust="spacingAndGlyphs">1.0</text>
<text x="1268.34" y="1399.10" font-size="34.35" font-weight="normal" fill="#000" stroke="#000" stroke-width="1.3" stroke-linejoin="round" textLength="49.91" lengthAdjust="spacingAndGlyphs">1.5</text>
<text x="1267.01" y="1301.45" font-size="33.86" font-weight="normal" fill="#000" stroke="#000" stroke-width="1.3" stroke-linejoin="round" textLength="51.28" lengthAdjust="spacingAndGlyphs">2.0</text>
<text x="1267.01" y="1203.80" font-size="33.86" font-weight="normal" fill="#000" stroke="#000" stroke-width="1.3" stroke-linejoin="round" textLength="51.28" lengthAdjust="spacingAndGlyphs">2.5</text>
<text x="1347.18" y="1754.45" font-size="34.29" font-weight="normal" fill="#000" stroke="#000" stroke-width="1.3" stroke-linejoin="round" textLength="19.86" lengthAdjust="spacingAndGlyphs">0</text>
<text x="1449.74" y="1754.45" font-size="34.29" font-weight="normal" fill="#000" stroke="#000" stroke-width="1.3" stroke-linejoin="round" textLength="43.03" lengthAdjust="spacingAndGlyphs">20</text>
<text x="1565.44" y="1754.45" font-size="34.29" font-weight="normal" fill="#000" stroke="#000" stroke-width="1.3" stroke-linejoin="round" textLength="41.81" lengthAdjust="spacingAndGlyphs">40</text>
<text x="1678.78" y="1754.45" font-size="34.29" font-weight="normal" fill="#000" stroke="#000" stroke-width="1.3" stroke-linejoin="round" textLength="43.03" lengthAdjust="spacingAndGlyphs">60</text>
<text x="1793.70" y="1754.45" font-size="34.29" font-weight="normal" fill="#000" stroke="#000" stroke-width="1.3" stroke-linejoin="round" textLength="42.62" lengthAdjust="spacingAndGlyphs">80</text>
<text x="1897.89" y="1754.45" font-size="34.29" font-weight="normal" fill="#000" stroke="#000" stroke-width="1.3" stroke-linejoin="round" textLength="62.15" lengthAdjust="spacingAndGlyphs">100</text>
<text x="2012.41" y="1754.45" font-size="34.29" font-weight="normal" fill="#000" stroke="#000" stroke-width="1.3" stroke-linejoin="round" textLength="62.15" lengthAdjust="spacingAndGlyphs">120</text>
<text x="207.36" y="2696.05" font-size="33.86" font-weight="normal" fill="#000" stroke="#000" stroke-width="1.3" stroke-linejoin="round" textLength="50.50" lengthAdjust="spacingAndGlyphs">0.0</text>
<text x="207.36" y="2598.35" font-size="33.86" font-weight="normal" fill="#000" stroke="#000" stroke-width="1.3" stroke-linejoin="round" textLength="50.50" lengthAdjust="spacingAndGlyphs">0.5</text>
<text x="207.94" y="2500.65" font-size="33.86" font-weight="normal" fill="#000" stroke="#000" stroke-width="1.3" stroke-linejoin="round" textLength="49.91" lengthAdjust="spacingAndGlyphs">1.0</text>
<text x="207.94" y="2402.95" font-size="34.35" font-weight="normal" fill="#000" stroke="#000" stroke-width="1.3" stroke-linejoin="round" textLength="49.91" lengthAdjust="spacingAndGlyphs">1.5</text>
<text x="206.61" y="2305.25" font-size="33.86" font-weight="normal" fill="#000" stroke="#000" stroke-width="1.3" stroke-linejoin="round" textLength="51.28" lengthAdjust="spacingAndGlyphs">2.0</text>
<text x="206.61" y="2207.55" font-size="33.86" font-weight="normal" fill="#000" stroke="#000" stroke-width="1.3" stroke-linejoin="round" textLength="51.28" lengthAdjust="spacingAndGlyphs">2.5</text>
<text x="286.98" y="2759.75" font-size="33.43" font-weight="normal" fill="#000" stroke="#000" stroke-width="1.3" stroke-linejoin="round" textLength="19.86" lengthAdjust="spacingAndGlyphs">0</text>
<text x="389.42" y="2759.75" font-size="33.43" font-weight="normal" fill="#000" stroke="#000" stroke-width="1.3" stroke-linejoin="round" textLength="43.03" lengthAdjust="spacingAndGlyphs">20</text>
<text x="505.00" y="2759.75" font-size="33.43" font-weight="normal" fill="#000" stroke="#000" stroke-width="1.3" stroke-linejoin="round" textLength="41.81" lengthAdjust="spacingAndGlyphs">40</text>
<text x="618.22" y="2759.75" font-size="33.43" font-weight="normal" fill="#000" stroke="#000" stroke-width="1.3" stroke-linejoin="round" textLength="43.03" lengthAdjust="spacingAndGlyphs">60</text>
<text x="733.02" y="2759.75" font-size="33.43" font-weight="normal" fill="#000" stroke="#000" stroke-width="1.3" stroke-linejoin="round" textLength="42.62" lengthAdjust="spacingAndGlyphs">80</text>
<text x="837.09" y="2759.75" font-size="33.43" font-weight="normal" fill="#000" stroke="#000" stroke-width="1.3" stroke-linejoin="round" textLength="62.15" lengthAdjust="spacingAndGlyphs">100</text>
<text x="951.49" y="2759.75" font-size="33.43" font-weight="normal" fill="#000" stroke="#000" stroke-width="1.3" stroke-linejoin="round" textLength="62.15" lengthAdjust="spacingAndGlyphs">120</text>
<text x="586.50" y="1128.50" font-size="40.50" font-weight="bold" fill="#000" textLength="145.40" lengthAdjust="spacingAndGlyphs">Vehicle</text>
<text x="1611.72" y="1131.70" font-size="40.78" font-weight="bold" fill="#000" textLength="220.76" lengthAdjust="spacingAndGlyphs">ES2B-C001</text>
<text x="434.57" y="2134.30" font-size="41.06" font-weight="bold" fill="#000" textLength="461.24" lengthAdjust="spacingAndGlyphs">ES2B-C001+Montanide</text>
<text x="427.90" y="1901.80" font-size="36.73" font-weight="bold" fill="#000" textLength="465.13" lengthAdjust="spacingAndGlyphs">Days after cell injection</text>
<text x="1492.96" y="1902.10" font-size="37.15" font-weight="bold" fill="#000" textLength="472.41" lengthAdjust="spacingAndGlyphs">Days after cell injection</text>
<text x="432.47" y="2904.50" font-size="37.01" font-weight="bold" fill="#000" textLength="470.69" lengthAdjust="spacingAndGlyphs">Days after cell injection</text>
<text transform="translate(180.10,1646.00) rotate(-90)" x="-0.42" y="0" font-size="42.04" font-weight="bold" fill="#000" textLength="369.68" lengthAdjust="spacingAndGlyphs">Tumor volume (cm</text>
<text transform="translate(163.50,1283.70) rotate(-90)" x="-0.71" y="0" font-size="30.29" font-weight="normal" fill="#000" stroke="#000" stroke-width="0.8" stroke-linejoin="round" textLength="13.17" lengthAdjust="spacingAndGlyphs">3</text>
<text transform="translate(180.10,1267.60) rotate(-90)" x="0.00" y="0" font-size="42.74" font-weight="bold" fill="#000" textLength="8.96" lengthAdjust="spacingAndGlyphs">)</text>
<text transform="translate(1243.10,1640.70) rotate(-90)" x="-0.42" y="0" font-size="42.32" font-weight="bold" fill="#000" textLength="372.71" lengthAdjust="spacingAndGlyphs">Tumor volume (cm</text>
<text transform="translate(1223.50,1276.00) rotate(-90)" x="-0.75" y="0" font-size="30.29" font-weight="normal" fill="#000" stroke="#000" stroke-width="0.8" stroke-linejoin="round" textLength="13.85" lengthAdjust="spacingAndGlyphs">3</text>
<text transform="translate(1243.10,1257.60) rotate(-90)" x="0.00" y="0" font-size="43.02" font-weight="bold" fill="#000" textLength="8.96" lengthAdjust="spacingAndGlyphs">)</text>
<text transform="translate(182.20,2643.00) rotate(-90)" x="-0.42" y="0" font-size="41.62" font-weight="bold" fill="#000" textLength="371.90" lengthAdjust="spacingAndGlyphs">Tumor volume (cm</text>
<text transform="translate(163.50,2278.50) rotate(-90)" x="-0.71" y="0" font-size="30.29" font-weight="normal" fill="#000" stroke="#000" stroke-width="0.8" stroke-linejoin="round" textLength="13.17" lengthAdjust="spacingAndGlyphs">3</text>
<text transform="translate(182.20,2260.20) rotate(-90)" x="0.00" y="0" font-size="42.32" font-weight="bold" fill="#000" textLength="8.96" lengthAdjust="spacingAndGlyphs">)</text>
<rect x="286.80" y="1676.30" width="52.90" height="18.60" fill="#000"/>
<rect x="345.30" y="1676.30" width="34.40" height="18.60" fill="#000"/>
<rect x="390.20" y="1676.30" width="68.60" height="18.60" fill="#000"/>
<line x1="286.80" y1="1685.60" x2="540.00" y2="1685.60" stroke="#000" stroke-width="2.6" stroke-linecap="butt"/>
<rect x="395.30" y="1673.70" width="7.60" height="6.30" fill="#000"/>
<rect x="411.40" y="1673.70" width="7.60" height="6.30" fill="#000"/>
<rect x="424.90" y="1671.20" width="12.70" height="8.80" fill="#000"/>
<rect x="443.50" y="1671.20" width="12.80" height="8.80" fill="#000"/>
<polygon fill="#000" points="464.4,1694.9 464.4,1660.2 480.0,1660.2 480.0,1650.0 501.7,1650.0 501.7,1639.0 519.8,1639.0 519.8,1628.8 534.0,1628.8 534.0,1694.9"/>
<polyline fill="none" stroke="#000" stroke-width="1.9" stroke-linejoin="miter" points="295.5,1685.7 313.0,1685.7 331.1,1685.7 353.8,1685.7 371.3,1685.7 398.5,1685.7 415.5,1685.7 433.0,1685.7 450.6,1685.7 470.4,1676.1 489.6,1666.5 509.4,1656.8 528.6,1643.4 556.4,1589.5 572.2,1536.5 589.8,1510.5 606.2,1467.0 629.4,1421.8 645.8,1387.3 669.0,1348.8 686.5,1298.2 708.0,1247.4 725.0,1209.3"/>
<polyline fill="none" stroke="#000" stroke-width="1.9" stroke-linejoin="miter" points="295.5,1685.7 313.0,1685.7 331.1,1685.7 353.8,1685.7 371.3,1685.7 398.5,1685.7 415.5,1685.7 433.0,1685.7 450.6,1685.7 470.4,1678.0 489.6,1670.3 509.4,1662.6 528.6,1651.0 556.4,1628.0 572.2,1618.3 589.8,1607.2 606.2,1555.2 629.4,1484.5 645.8,1460.7 669.0,1373.8 686.5,1366.2 708.0,1349.8 725.0,1302.2 747.7,1219.7"/>
<polyline fill="none" stroke="#000" stroke-width="1.9" stroke-linejoin="miter" points="295.5,1685.7 313.0,1685.5 331.1,1685.2 353.8,1684.9 371.3,1684.6 398.5,1684.3 415.5,1684.0 433.0,1683.8 450.6,1681.9 470.4,1670.3 489.6,1659.3 509.4,1648.4 528.6,1633.7 556.4,1572.5 572.2,1511.1 589.8,1463.4 606.2,1428.7 629.4,1329.0 645.8,1269.1 669.0,1233.7 686.5,1221.0"/>
<polyline fill="none" stroke="#000" stroke-width="1.9" stroke-linejoin="miter" points="295.5,1685.7 313.0,1685.7 331.1,1685.7 353.8,1685.7 371.3,1685.7 398.5,1685.7 415.5,1685.7 433.0,1685.7 450.6,1685.7 470.4,1679.9 489.6,1674.2 509.4,1666.5 528.6,1656.8 556.4,1608.3 572.2,1592.5 589.8,1535.2 606.2,1517.8 629.4,1493.2 645.8,1474.0 669.0,1435.5 686.5,1406.6 708.0,1371.9 725.0,1352.7 747.7,1302.6 765.2,1264.1 787.8,1233.3"/>
<polyline fill="none" stroke="#000" stroke-width="1.9" stroke-linejoin="miter" points="295.5,1685.7 313.0,1685.7 331.1,1685.7 353.8,1685.7 371.3,1685.7 398.5,1685.7 415.5,1685.7 433.0,1685.7 450.6,1685.7 470.4,1685.7 489.6,1678.0 509.4,1672.2 528.6,1666.5 556.4,1647.2 572.2,1628.0 589.8,1608.7 606.2,1579.8 629.4,1551.0 645.8,1509.9 669.0,1461.8 686.5,1332.7 708.0,1321.9 725.0,1318.0 747.7,1299.2 765.2,1274.5"/>
<polyline fill="none" stroke="#000" stroke-width="1.9" stroke-linejoin="miter" points="295.5,1685.7 313.0,1685.7 331.1,1685.7 353.8,1685.7 371.3,1685.7 398.5,1685.7 415.5,1685.7 433.0,1685.7 450.6,1685.7 470.4,1685.7 489.6,1679.9 509.4,1672.2 528.6,1656.8 556.4,1608.7 572.2,1567.1 589.8,1567.1 606.2,1502.8 629.4,1435.5 645.8,1364.6 669.0,1312.8 686.5,1254.5 708.0,1217.3 725.0,1221.8"/>
<polyline fill="none" stroke="#000" stroke-width="1.9" stroke-linejoin="miter" points="295.5,1685.7 313.0,1685.7 331.1,1685.7 353.8,1685.7 371.3,1685.7 398.5,1685.7 415.5,1685.7 433.0,1685.7 450.6,1685.7 470.4,1685.7 489.6,1685.7 509.4,1681.9 528.6,1676.1 556.4,1656.8 572.2,1637.6 589.8,1624.1 606.2,1608.7 629.4,1598.5 645.8,1598.5 669.0,1528.2 686.5,1528.2 708.0,1484.7 725.0,1404.8 747.7,1378.1 765.2,1295.9 787.8,1233.3"/>
<polyline fill="none" stroke="#000" stroke-width="1.9" stroke-linejoin="miter" points="295.5,1685.7 313.0,1685.7 331.1,1685.7 353.8,1685.7 371.3,1685.7 398.5,1685.7 415.5,1685.7 433.0,1685.7 450.6,1685.7 470.4,1685.7 489.6,1685.7 509.4,1681.9 528.6,1676.1 556.4,1670.3 572.2,1656.8 589.8,1643.4 606.2,1628.0 629.4,1604.9 645.8,1574.2 669.0,1554.8 686.5,1540.4 708.0,1483.6 725.0,1477.4 747.7,1414.3 765.2,1399.8 787.8,1337.3 809.9,1300.7"/>
<polyline fill="none" stroke="#000" stroke-width="1.9" stroke-linejoin="miter" points="295.5,1685.7 313.0,1685.7 331.1,1685.7 353.8,1685.7 371.3,1685.7 398.5,1685.7 415.5,1685.7 433.0,1685.7 450.6,1685.7 470.4,1685.7 489.6,1685.7 509.4,1685.7 528.6,1685.7 556.4,1679.9 572.2,1670.3 589.8,1656.8 606.2,1647.2 629.4,1637.2 645.8,1634.9 669.0,1608.1 686.5,1593.7 708.0,1593.7 725.0,1581.6 747.7,1552.5 765.2,1523.4 787.8,1472.6 809.9,1465.3 832.5,1450.9 844.4,1421.8 865.4,1334.6 884.0,1298.2 905.0,1295.9"/>
<polyline fill="none" stroke="#000" stroke-width="1.9" stroke-linejoin="miter" points="295.5,1685.7 313.0,1685.7 331.1,1685.7 353.8,1685.7 371.3,1685.7 398.5,1685.7 415.5,1685.7 433.0,1685.7 450.6,1685.7 470.4,1685.7 489.6,1685.7 509.4,1685.7 528.6,1681.9 556.4,1676.1 572.2,1662.6 589.8,1651.0 606.2,1639.5 629.4,1625.1 645.8,1608.7 669.0,1579.1 686.5,1571.7 708.0,1520.9 725.0,1504.0 747.7,1467.8 765.2,1428.9 787.8,1407.2 809.9,1399.8 832.5,1237.2 844.4,1237.2 865.4,1237.2"/>
<circle cx="470.36" cy="1676.08" r="9.25" fill="#000"/>
<circle cx="489.60" cy="1666.45" r="9.25" fill="#000"/>
<circle cx="509.41" cy="1656.83" r="9.25" fill="#000"/>
<circle cx="528.65" cy="1643.35" r="9.25" fill="#000"/>
<circle cx="556.38" cy="1589.45" r="9.25" fill="#000"/>
<circle cx="572.22" cy="1536.51" r="9.25" fill="#000"/>
<circle cx="589.77" cy="1510.53" r="9.25" fill="#000"/>
<circle cx="606.18" cy="1467.02" r="9.25" fill="#000"/>
<circle cx="629.38" cy="1421.78" r="9.25" fill="#000"/>
<circle cx="645.79" cy="1387.33" r="9.25" fill="#000"/>
<circle cx="668.99" cy="1348.83" r="9.25" fill="#000"/>
<circle cx="686.53" cy="1298.20" r="9.25" fill="#000"/>
<circle cx="708.04" cy="1247.38" r="9.25" fill="#000"/>
<circle cx="725.02" cy="1209.26" r="9.25" fill="#000"/>
<rect x="461.61" y="1669.25" width="17.50" height="17.50" fill="#000"/>
<rect x="480.85" y="1661.55" width="17.50" height="17.50" fill="#000"/>
<rect x="500.66" y="1653.85" width="17.50" height="17.50" fill="#000"/>
<rect x="519.90" y="1642.30" width="17.50" height="17.50" fill="#000"/>
<rect x="547.63" y="1619.20" width="17.50" height="17.50" fill="#000"/>
<rect x="563.47" y="1609.58" width="17.50" height="17.50" fill="#000"/>
<rect x="581.02" y="1598.41" width="17.50" height="17.50" fill="#000"/>
<rect x="597.43" y="1546.43" width="17.50" height="17.50" fill="#000"/>
<rect x="620.63" y="1475.79" width="17.50" height="17.50" fill="#000"/>
<rect x="637.04" y="1451.92" width="17.50" height="17.50" fill="#000"/>
<rect x="660.24" y="1365.10" width="17.50" height="17.50" fill="#000"/>
<rect x="677.78" y="1357.40" width="17.50" height="17.50" fill="#000"/>
<rect x="699.29" y="1341.04" width="17.50" height="17.50" fill="#000"/>
<rect x="716.27" y="1293.49" width="17.50" height="17.50" fill="#000"/>
<rect x="738.90" y="1210.91" width="17.50" height="17.50" fill="#000"/>
<polygon fill="#000" points="353.8,1675.1 363.0,1693.6 344.5,1693.6"/>
<polygon fill="#000" points="371.3,1674.9 380.6,1693.4 362.1,1693.4"/>
<polygon fill="#000" points="398.5,1674.5 407.7,1693.0 389.2,1693.0"/>
<polygon fill="#000" points="415.5,1674.3 424.7,1692.8 406.2,1692.8"/>
<polygon fill="#000" points="433.0,1674.0 442.3,1692.5 423.8,1692.5"/>
<polygon fill="#000" points="450.6,1672.1 459.8,1690.6 441.3,1690.6"/>
<polygon fill="#000" points="470.4,1660.5 479.6,1679.0 461.1,1679.0"/>
<polygon fill="#000" points="489.6,1649.6 498.9,1668.1 480.4,1668.1"/>
<polygon fill="#000" points="509.4,1638.6 518.7,1657.1 500.2,1657.1"/>
<polygon fill="#000" points="528.6,1624.0 537.9,1642.5 519.4,1642.5"/>
<polygon fill="#000" points="556.4,1562.8 565.6,1581.3 547.1,1581.3"/>
<polygon fill="#000" points="572.2,1501.4 581.5,1519.9 563.0,1519.9"/>
<polygon fill="#000" points="589.8,1453.6 599.0,1472.1 580.5,1472.1"/>
<polygon fill="#000" points="606.2,1419.0 615.4,1437.5 596.9,1437.5"/>
<polygon fill="#000" points="629.4,1319.2 638.6,1337.7 620.1,1337.7"/>
<polygon fill="#000" points="645.8,1259.4 655.0,1277.9 636.5,1277.9"/>
<polygon fill="#000" points="669.0,1224.0 678.2,1242.5 659.7,1242.5"/>
<polygon fill="#000" points="686.5,1211.3 695.8,1229.8 677.3,1229.8"/>
<polygon fill="#000" points="470.4,1689.7 479.6,1671.2 461.1,1671.2"/>
<polygon fill="#000" points="489.6,1683.9 498.9,1665.4 480.4,1665.4"/>
<polygon fill="#000" points="509.4,1676.2 518.7,1657.7 500.2,1657.7"/>
<polygon fill="#000" points="528.6,1666.6 537.9,1648.1 519.4,1648.1"/>
<polygon fill="#000" points="556.4,1618.1 565.6,1599.6 547.1,1599.6"/>
<polygon fill="#000" points="572.2,1602.3 581.5,1583.8 563.0,1583.8"/>
<polygon fill="#000" points="589.8,1544.9 599.0,1526.4 580.5,1526.4"/>
<polygon fill="#000" points="606.2,1527.6 615.4,1509.1 596.9,1509.1"/>
<polygon fill="#000" points="629.4,1503.0 638.6,1484.5 620.1,1484.5"/>
<polygon fill="#000" points="645.8,1483.7 655.0,1465.2 636.5,1465.2"/>
<polygon fill="#000" points="669.0,1445.2 678.2,1426.7 659.7,1426.7"/>
<polygon fill="#000" points="686.5,1416.3 695.8,1397.8 677.3,1397.8"/>
<polygon fill="#000" points="708.0,1381.7 717.3,1363.2 698.8,1363.2"/>
<polygon fill="#000" points="725.0,1362.4 734.3,1343.9 715.8,1343.9"/>
<polygon fill="#000" points="747.7,1312.4 756.9,1293.9 738.4,1293.9"/>
<polygon fill="#000" points="765.2,1273.9 774.4,1255.4 755.9,1255.4"/>
<polygon fill="#000" points="787.8,1243.1 797.1,1224.6 778.6,1224.6"/>
<polygon fill="#000" points="489.6,1668.2 499.4,1678.0 489.6,1687.8 479.9,1678.0"/>
<polygon fill="#000" points="509.4,1662.5 519.2,1672.2 509.4,1682.0 499.7,1672.2"/>
<polygon fill="#000" points="528.6,1656.7 538.4,1666.5 528.6,1676.2 518.9,1666.5"/>
<polygon fill="#000" points="556.4,1637.5 566.1,1647.2 556.4,1657.0 546.6,1647.2"/>
<polygon fill="#000" points="572.2,1618.2 582.0,1628.0 572.2,1637.7 562.5,1628.0"/>
<polygon fill="#000" points="589.8,1599.0 599.5,1608.7 589.8,1618.5 580.0,1608.7"/>
<polygon fill="#000" points="606.2,1570.1 615.9,1579.8 606.2,1589.6 596.4,1579.8"/>
<polygon fill="#000" points="629.4,1541.2 639.1,1551.0 629.4,1560.7 619.6,1551.0"/>
<polygon fill="#000" points="645.8,1500.2 655.5,1509.9 645.8,1519.7 636.0,1509.9"/>
<polygon fill="#000" points="669.0,1452.1 678.7,1461.8 669.0,1471.6 659.2,1461.8"/>
<polygon fill="#000" points="686.5,1322.9 696.3,1332.7 686.5,1342.4 676.8,1332.7"/>
<polygon fill="#000" points="708.0,1312.1 717.8,1321.9 708.0,1331.6 698.3,1321.9"/>
<polygon fill="#000" points="725.0,1308.3 734.8,1318.0 725.0,1327.8 715.3,1318.0"/>
<polygon fill="#000" points="747.7,1289.4 757.4,1299.2 747.7,1308.9 737.9,1299.2"/>
<polygon fill="#000" points="765.2,1264.8 774.9,1274.5 765.2,1284.3 755.4,1274.5"/>
<circle cx="489.60" cy="1679.92" r="8.00" fill="none" stroke="#000" stroke-width="2.0"/>
<circle cx="509.41" cy="1672.23" r="8.00" fill="none" stroke="#000" stroke-width="2.0"/>
<circle cx="528.65" cy="1656.83" r="8.00" fill="none" stroke="#000" stroke-width="2.0"/>
<circle cx="556.38" cy="1608.70" r="8.00" fill="none" stroke="#000" stroke-width="2.0"/>
<circle cx="572.22" cy="1567.12" r="8.00" fill="none" stroke="#000" stroke-width="2.0"/>
<circle cx="589.77" cy="1567.12" r="8.00" fill="none" stroke="#000" stroke-width="2.0"/>
<circle cx="606.18" cy="1502.83" r="8.00" fill="none" stroke="#000" stroke-width="2.0"/>
<circle cx="629.38" cy="1435.45" r="8.00" fill="none" stroke="#000" stroke-width="2.0"/>
<circle cx="645.79" cy="1364.61" r="8.00" fill="none" stroke="#000" stroke-width="2.0"/>
<circle cx="668.99" cy="1312.83" r="8.00" fill="none" stroke="#000" stroke-width="2.0"/>
<circle cx="686.53" cy="1254.50" r="8.00" fill="none" stroke="#000" stroke-width="2.0"/>
<circle cx="708.04" cy="1217.35" r="8.00" fill="none" stroke="#000" stroke-width="2.0"/>
<circle cx="725.02" cy="1221.78" r="8.00" fill="none" stroke="#000" stroke-width="2.0"/>
<rect x="501.91" y="1674.35" width="15.00" height="15.00" fill="none" stroke="#000" stroke-width="2.0"/>
<rect x="521.15" y="1668.58" width="15.00" height="15.00" fill="none" stroke="#000" stroke-width="2.0"/>
<rect x="548.88" y="1649.33" width="15.00" height="15.00" fill="none" stroke="#000" stroke-width="2.0"/>
<rect x="564.72" y="1630.08" width="15.00" height="15.00" fill="none" stroke="#000" stroke-width="2.0"/>
<rect x="582.27" y="1616.60" width="15.00" height="15.00" fill="none" stroke="#000" stroke-width="2.0"/>
<rect x="598.68" y="1601.20" width="15.00" height="15.00" fill="none" stroke="#000" stroke-width="2.0"/>
<rect x="621.88" y="1591.00" width="15.00" height="15.00" fill="none" stroke="#000" stroke-width="2.0"/>
<rect x="638.29" y="1591.00" width="15.00" height="15.00" fill="none" stroke="#000" stroke-width="2.0"/>
<rect x="661.49" y="1520.74" width="15.00" height="15.00" fill="none" stroke="#000" stroke-width="2.0"/>
<rect x="679.03" y="1520.74" width="15.00" height="15.00" fill="none" stroke="#000" stroke-width="2.0"/>
<rect x="700.54" y="1477.23" width="15.00" height="15.00" fill="none" stroke="#000" stroke-width="2.0"/>
<rect x="717.52" y="1397.34" width="15.00" height="15.00" fill="none" stroke="#000" stroke-width="2.0"/>
<rect x="740.15" y="1370.59" width="15.00" height="15.00" fill="none" stroke="#000" stroke-width="2.0"/>
<rect x="757.69" y="1288.39" width="15.00" height="15.00" fill="none" stroke="#000" stroke-width="2.0"/>
<rect x="780.33" y="1225.83" width="15.00" height="15.00" fill="none" stroke="#000" stroke-width="2.0"/>
<polygon fill="none" stroke="#000" stroke-width="2.0" stroke-linejoin="miter" points="509.4,1673.4 517.4,1689.2 501.4,1689.2"/>
<polygon fill="none" stroke="#000" stroke-width="2.0" stroke-linejoin="miter" points="528.6,1667.6 536.6,1683.4 520.6,1683.4"/>
<polygon fill="none" stroke="#000" stroke-width="2.0" stroke-linejoin="miter" points="556.4,1661.8 564.4,1677.6 548.4,1677.6"/>
<polygon fill="none" stroke="#000" stroke-width="2.0" stroke-linejoin="miter" points="572.2,1648.3 580.2,1664.1 564.2,1664.1"/>
<polygon fill="none" stroke="#000" stroke-width="2.0" stroke-linejoin="miter" points="589.8,1634.9 597.8,1650.7 581.8,1650.7"/>
<polygon fill="none" stroke="#000" stroke-width="2.0" stroke-linejoin="miter" points="606.2,1619.5 614.2,1635.2 598.2,1635.2"/>
<polygon fill="none" stroke="#000" stroke-width="2.0" stroke-linejoin="miter" points="629.4,1596.4 637.4,1612.2 621.4,1612.2"/>
<polygon fill="none" stroke="#000" stroke-width="2.0" stroke-linejoin="miter" points="645.8,1565.7 653.8,1581.5 637.8,1581.5"/>
<polygon fill="none" stroke="#000" stroke-width="2.0" stroke-linejoin="miter" points="669.0,1546.3 677.0,1562.1 661.0,1562.1"/>
<polygon fill="none" stroke="#000" stroke-width="2.0" stroke-linejoin="miter" points="686.5,1531.9 694.5,1547.7 678.5,1547.7"/>
<polygon fill="none" stroke="#000" stroke-width="2.0" stroke-linejoin="miter" points="708.0,1475.1 716.0,1490.9 700.0,1490.9"/>
<polygon fill="none" stroke="#000" stroke-width="2.0" stroke-linejoin="miter" points="725.0,1468.9 733.0,1484.7 717.0,1484.7"/>
<polygon fill="none" stroke="#000" stroke-width="2.0" stroke-linejoin="miter" points="747.7,1405.8 755.7,1421.6 739.7,1421.6"/>
<polygon fill="none" stroke="#000" stroke-width="2.0" stroke-linejoin="miter" points="765.2,1391.3 773.2,1407.1 757.2,1407.1"/>
<polygon fill="none" stroke="#000" stroke-width="2.0" stroke-linejoin="miter" points="787.8,1328.8 795.8,1344.6 779.8,1344.6"/>
<polygon fill="none" stroke="#000" stroke-width="2.0" stroke-linejoin="miter" points="809.9,1292.2 817.9,1308.0 801.9,1308.0"/>
<polygon fill="none" stroke="#000" stroke-width="2.0" stroke-linejoin="miter" points="556.4,1688.4 564.4,1672.6 548.4,1672.6"/>
<polygon fill="none" stroke="#000" stroke-width="2.0" stroke-linejoin="miter" points="572.2,1678.8 580.2,1663.0 564.2,1663.0"/>
<polygon fill="none" stroke="#000" stroke-width="2.0" stroke-linejoin="miter" points="589.8,1665.3 597.8,1649.5 581.8,1649.5"/>
<polygon fill="none" stroke="#000" stroke-width="2.0" stroke-linejoin="miter" points="606.2,1655.7 614.2,1639.9 598.2,1639.9"/>
<polygon fill="none" stroke="#000" stroke-width="2.0" stroke-linejoin="miter" points="629.4,1645.7 637.4,1629.9 621.4,1629.9"/>
<polygon fill="none" stroke="#000" stroke-width="2.0" stroke-linejoin="miter" points="645.8,1643.4 653.8,1627.6 637.8,1627.6"/>
<polygon fill="none" stroke="#000" stroke-width="2.0" stroke-linejoin="miter" points="669.0,1616.6 677.0,1600.8 661.0,1600.8"/>
<polygon fill="none" stroke="#000" stroke-width="2.0" stroke-linejoin="miter" points="686.5,1602.2 694.5,1586.4 678.5,1586.4"/>
<polygon fill="none" stroke="#000" stroke-width="2.0" stroke-linejoin="miter" points="708.0,1602.2 716.0,1586.4 700.0,1586.4"/>
<polygon fill="none" stroke="#000" stroke-width="2.0" stroke-linejoin="miter" points="725.0,1590.1 733.0,1574.3 717.0,1574.3"/>
<polygon fill="none" stroke="#000" stroke-width="2.0" stroke-linejoin="miter" points="747.7,1561.0 755.7,1545.2 739.7,1545.2"/>
<polygon fill="none" stroke="#000" stroke-width="2.0" stroke-linejoin="miter" points="765.2,1531.9 773.2,1516.1 757.2,1516.1"/>
<polygon fill="none" stroke="#000" stroke-width="2.0" stroke-linejoin="miter" points="787.8,1481.1 795.8,1465.3 779.8,1465.3"/>
<polygon fill="none" stroke="#000" stroke-width="2.0" stroke-linejoin="miter" points="809.9,1473.8 817.9,1458.0 801.9,1458.0"/>
<polygon fill="none" stroke="#000" stroke-width="2.0" stroke-linejoin="miter" points="832.5,1459.4 840.5,1443.6 824.5,1443.6"/>
<polygon fill="none" stroke="#000" stroke-width="2.0" stroke-linejoin="miter" points="844.4,1430.3 852.4,1414.5 836.4,1414.5"/>
<polygon fill="none" stroke="#000" stroke-width="2.0" stroke-linejoin="miter" points="865.4,1343.1 873.4,1327.3 857.4,1327.3"/>
<polygon fill="none" stroke="#000" stroke-width="2.0" stroke-linejoin="miter" points="884.0,1306.7 892.0,1290.9 876.0,1290.9"/>
<polygon fill="none" stroke="#000" stroke-width="2.0" stroke-linejoin="miter" points="905.0,1304.4 913.0,1288.6 897.0,1288.6"/>
<polygon fill="none" stroke="#000" stroke-width="2.0" stroke-linejoin="miter" points="528.6,1673.4 537.1,1681.9 528.6,1690.4 520.1,1681.9"/>
<polygon fill="none" stroke="#000" stroke-width="2.0" stroke-linejoin="miter" points="556.4,1667.6 564.9,1676.1 556.4,1684.6 547.9,1676.1"/>
<polygon fill="none" stroke="#000" stroke-width="2.0" stroke-linejoin="miter" points="572.2,1654.1 580.7,1662.6 572.2,1671.1 563.7,1662.6"/>
<polygon fill="none" stroke="#000" stroke-width="2.0" stroke-linejoin="miter" points="589.8,1642.5 598.3,1651.0 589.8,1659.5 581.3,1651.0"/>
<polygon fill="none" stroke="#000" stroke-width="2.0" stroke-linejoin="miter" points="606.2,1631.0 614.7,1639.5 606.2,1648.0 597.7,1639.5"/>
<polygon fill="none" stroke="#000" stroke-width="2.0" stroke-linejoin="miter" points="629.4,1616.6 637.9,1625.1 629.4,1633.6 620.9,1625.1"/>
<polygon fill="none" stroke="#000" stroke-width="2.0" stroke-linejoin="miter" points="645.8,1600.2 654.3,1608.7 645.8,1617.2 637.3,1608.7"/>
<polygon fill="none" stroke="#000" stroke-width="2.0" stroke-linejoin="miter" points="669.0,1570.6 677.5,1579.1 669.0,1587.6 660.5,1579.1"/>
<polygon fill="none" stroke="#000" stroke-width="2.0" stroke-linejoin="miter" points="686.5,1563.2 695.0,1571.7 686.5,1580.2 678.0,1571.7"/>
<polygon fill="none" stroke="#000" stroke-width="2.0" stroke-linejoin="miter" points="708.0,1512.4 716.5,1520.9 708.0,1529.4 699.5,1520.9"/>
<polygon fill="none" stroke="#000" stroke-width="2.0" stroke-linejoin="miter" points="725.0,1495.5 733.5,1504.0 725.0,1512.5 716.5,1504.0"/>
<polygon fill="none" stroke="#000" stroke-width="2.0" stroke-linejoin="miter" points="747.7,1459.3 756.2,1467.8 747.7,1476.3 739.2,1467.8"/>
<polygon fill="none" stroke="#000" stroke-width="2.0" stroke-linejoin="miter" points="765.2,1420.4 773.7,1428.9 765.2,1437.4 756.7,1428.9"/>
<polygon fill="none" stroke="#000" stroke-width="2.0" stroke-linejoin="miter" points="787.8,1398.7 796.3,1407.2 787.8,1415.7 779.3,1407.2"/>
<polygon fill="none" stroke="#000" stroke-width="2.0" stroke-linejoin="miter" points="809.9,1391.3 818.4,1399.8 809.9,1408.3 801.4,1399.8"/>
<polygon fill="none" stroke="#000" stroke-width="2.0" stroke-linejoin="miter" points="832.5,1228.7 841.0,1237.2 832.5,1245.7 824.0,1237.2"/>
<polygon fill="none" stroke="#000" stroke-width="2.0" stroke-linejoin="miter" points="844.4,1228.7 852.9,1237.2 844.4,1245.7 835.9,1237.2"/>
<polygon fill="none" stroke="#000" stroke-width="2.0" stroke-linejoin="miter" points="865.4,1228.7 873.9,1237.2 865.4,1245.7 856.9,1237.2"/>
<rect x="1350.00" y="1674.00" width="52.70" height="15.30" fill="#05ff0a"/>
<rect x="1408.10" y="1674.00" width="34.10" height="15.30" fill="#05ff0a"/>
<rect x="1453.00" y="1674.00" width="68.60" height="15.30" fill="#05ff0a"/>
<rect x="1527.00" y="1674.00" width="37.30" height="15.30" fill="#05ff0a"/>
<rect x="1567.00" y="1674.00" width="36.70" height="15.30" fill="#05ff0a"/>
<rect x="1614.50" y="1674.00" width="69.00" height="15.30" fill="#05ff0a"/>
<rect x="1689.10" y="1674.00" width="33.20" height="15.30" fill="#05ff0a"/>
<rect x="1728.40" y="1674.00" width="33.70" height="15.30" fill="#05ff0a"/>
<rect x="1768.40" y="1674.00" width="34.30" height="15.30" fill="#05ff0a"/>
<rect x="1808.20" y="1674.00" width="34.30" height="15.30" fill="#05ff0a"/>
<rect x="1848.00" y="1674.00" width="18.50" height="15.30" fill="#05ff0a"/>
<rect x="1872.00" y="1674.00" width="17.80" height="15.30" fill="#05ff0a"/>
<rect x="1893.00" y="1674.00" width="29.00" height="15.30" fill="#05ff0a"/>
<rect x="1928.00" y="1674.00" width="36.00" height="15.30" fill="#05ff0a"/>
<rect x="1968.00" y="1674.00" width="18.00" height="15.30" fill="#05ff0a"/>
<rect x="1991.00" y="1674.00" width="53.20" height="15.30" fill="#05ff0a"/>
<rect x="2050.00" y="1674.00" width="15.20" height="15.30" fill="#05ff0a"/>
<line x1="1350.00" y1="1679.50" x2="2065.00" y2="1679.50" stroke="#05ff0a" stroke-width="2.6" stroke-linecap="butt"/>
<rect x="1502.00" y="1670.80" width="19.60" height="9.20" fill="#05ff0a"/>
<rect x="1529.70" y="1666.20" width="10.00" height="13.80" fill="#05ff0a"/>
<rect x="1545.20" y="1663.10" width="17.30" height="16.90" fill="#05ff0a"/>
<rect x="1567.00" y="1658.00" width="14.50" height="22.00" fill="#05ff0a"/>
<polyline fill="none" stroke="#05ff0a" stroke-width="1.7" stroke-linejoin="miter" points="1575.2,1681.5 1594.6,1656.1 1623.3,1605.9 1639.9,1591.1 1657.0,1581.3 1674.2,1524.5 1697.7,1518.4 1713.7,1505.1 1737.2,1436.0 1754.4,1375.3 1777.3,1366.1 1793.9,1256.3 1817.4,1224.5"/>
<polyline fill="none" stroke="#05ff0a" stroke-width="1.7" stroke-linejoin="miter" points="1575.2,1681.5 1594.6,1671.7 1623.3,1662.0 1639.9,1658.1 1657.0,1652.2 1674.2,1648.3 1697.7,1669.8 1713.7,1681.5"/>
<polyline fill="none" stroke="#05ff0a" stroke-width="1.7" stroke-linejoin="miter" points="1575.2,1681.5 1594.6,1675.6 1623.3,1665.9 1639.9,1656.1 1657.0,1660.0 1674.2,1654.2 1697.7,1652.8 1713.7,1657.5 1737.2,1664.9 1754.4,1664.9 1777.3,1664.9 1793.9,1675.6 1817.4,1681.5"/>
<polyline fill="none" stroke="#05ff0a" stroke-width="1.7" stroke-linejoin="miter" points="1575.2,1681.5 1594.6,1671.7 1623.3,1652.2 1639.9,1642.4 1657.0,1628.6 1674.2,1613.9 1697.7,1609.2 1713.7,1604.4 1737.2,1605.5 1754.4,1579.0 1777.3,1565.7 1793.9,1559.4 1817.4,1482.3 1833.4,1438.5 1856.9,1412.4 1880.4,1406.3 1902.1,1387.4 1914.7,1312.6 1936.5,1252.6 1954.8,1252.6 1977.1,1207.3"/>
<polyline fill="none" stroke="#05ff0a" stroke-width="1.7" stroke-linejoin="miter" points="1575.2,1681.5 1594.6,1675.6 1623.3,1665.9 1639.9,1658.1 1657.0,1642.4 1674.2,1622.9 1697.7,1595.6 1713.7,1597.5 1737.2,1595.6 1754.4,1583.8 1777.3,1574.1 1793.9,1560.4 1817.4,1534.0 1833.4,1493.0 1856.9,1493.0 1880.4,1493.0 1902.1,1493.0 1914.7,1473.5 1936.5,1472.3 1954.8,1471.2 1977.1,1425.7 2000.6,1404.2 2017.8,1340.7 2034.4,1324.1 2058.4,1307.1"/>
<rect x="1585.53" y="1647.01" width="18.20" height="18.20" fill="#05ff0a"/>
<rect x="1614.16" y="1596.82" width="18.20" height="18.20" fill="#05ff0a"/>
<rect x="1630.76" y="1581.98" width="18.20" height="18.20" fill="#05ff0a"/>
<rect x="1647.94" y="1572.21" width="18.20" height="18.20" fill="#05ff0a"/>
<rect x="1665.12" y="1515.38" width="18.20" height="18.20" fill="#05ff0a"/>
<rect x="1688.60" y="1509.32" width="18.20" height="18.20" fill="#05ff0a"/>
<rect x="1704.63" y="1496.04" width="18.20" height="18.20" fill="#05ff0a"/>
<rect x="1728.11" y="1426.91" width="18.20" height="18.20" fill="#05ff0a"/>
<rect x="1745.28" y="1366.17" width="18.20" height="18.20" fill="#05ff0a"/>
<rect x="1768.19" y="1356.99" width="18.20" height="18.20" fill="#05ff0a"/>
<rect x="1784.79" y="1247.23" width="18.20" height="18.20" fill="#05ff0a"/>
<rect x="1808.27" y="1215.40" width="18.20" height="18.20" fill="#05ff0a"/>
<polygon fill="#05ff0a" points="1594.6,1661.6 1604.2,1680.8 1585.0,1680.8"/>
<polygon fill="#05ff0a" points="1623.3,1651.9 1632.9,1671.1 1613.7,1671.1"/>
<polygon fill="#05ff0a" points="1639.9,1648.0 1649.5,1667.2 1630.3,1667.2"/>
<polygon fill="#05ff0a" points="1657.0,1642.1 1666.6,1661.3 1647.4,1661.3"/>
<polygon fill="#05ff0a" points="1674.2,1638.2 1683.8,1657.4 1664.6,1657.4"/>
<polygon fill="#05ff0a" points="1697.7,1659.7 1707.3,1678.9 1688.1,1678.9"/>
<polygon fill="none" stroke="#05ff0a" stroke-width="1.7" stroke-linejoin="miter" points="1594.6,1683.4 1601.9,1669.1 1587.4,1669.1"/>
<polygon fill="none" stroke="#05ff0a" stroke-width="1.7" stroke-linejoin="miter" points="1623.3,1673.6 1630.5,1659.3 1616.0,1659.3"/>
<polygon fill="none" stroke="#05ff0a" stroke-width="1.7" stroke-linejoin="miter" points="1639.9,1663.9 1647.1,1649.6 1632.6,1649.6"/>
<polygon fill="none" stroke="#05ff0a" stroke-width="1.7" stroke-linejoin="miter" points="1657.0,1667.8 1664.3,1653.5 1649.8,1653.5"/>
<polygon fill="none" stroke="#05ff0a" stroke-width="1.7" stroke-linejoin="miter" points="1674.2,1661.9 1681.5,1647.6 1667.0,1647.6"/>
<polygon fill="none" stroke="#05ff0a" stroke-width="1.7" stroke-linejoin="miter" points="1697.7,1660.5 1704.9,1646.2 1690.4,1646.2"/>
<polygon fill="none" stroke="#05ff0a" stroke-width="1.7" stroke-linejoin="miter" points="1713.7,1665.2 1721.0,1650.9 1706.5,1650.9"/>
<polygon fill="none" stroke="#05ff0a" stroke-width="1.7" stroke-linejoin="miter" points="1737.2,1672.6 1744.5,1658.3 1730.0,1658.3"/>
<polygon fill="none" stroke="#05ff0a" stroke-width="1.7" stroke-linejoin="miter" points="1754.4,1672.6 1761.6,1658.3 1747.1,1658.3"/>
<polygon fill="none" stroke="#05ff0a" stroke-width="1.7" stroke-linejoin="miter" points="1777.3,1672.6 1784.5,1658.3 1770.0,1658.3"/>
<polygon fill="none" stroke="#05ff0a" stroke-width="1.7" stroke-linejoin="miter" points="1793.9,1683.4 1801.1,1669.1 1786.6,1669.1"/>
<circle cx="1594.63" cy="1671.73" r="7.40" fill="none" stroke="#05ff0a" stroke-width="1.7"/>
<circle cx="1623.26" cy="1652.20" r="7.40" fill="none" stroke="#05ff0a" stroke-width="1.7"/>
<circle cx="1639.86" cy="1642.44" r="7.40" fill="none" stroke="#05ff0a" stroke-width="1.7"/>
<circle cx="1657.04" cy="1628.57" r="7.40" fill="none" stroke="#05ff0a" stroke-width="1.7"/>
<circle cx="1674.22" cy="1613.93" r="7.40" fill="none" stroke="#05ff0a" stroke-width="1.7"/>
<circle cx="1697.70" cy="1609.24" r="7.40" fill="none" stroke="#05ff0a" stroke-width="1.7"/>
<circle cx="1713.73" cy="1604.36" r="7.40" fill="none" stroke="#05ff0a" stroke-width="1.7"/>
<circle cx="1737.21" cy="1605.53" r="7.40" fill="none" stroke="#05ff0a" stroke-width="1.7"/>
<circle cx="1754.38" cy="1578.97" r="7.40" fill="none" stroke="#05ff0a" stroke-width="1.7"/>
<circle cx="1777.29" cy="1565.69" r="7.40" fill="none" stroke="#05ff0a" stroke-width="1.7"/>
<circle cx="1793.89" cy="1559.44" r="7.40" fill="none" stroke="#05ff0a" stroke-width="1.7"/>
<circle cx="1817.37" cy="1482.29" r="7.40" fill="none" stroke="#05ff0a" stroke-width="1.7"/>
<circle cx="1833.40" cy="1438.55" r="7.40" fill="none" stroke="#05ff0a" stroke-width="1.7"/>
<circle cx="1856.88" cy="1412.38" r="7.40" fill="none" stroke="#05ff0a" stroke-width="1.7"/>
<circle cx="1880.36" cy="1406.32" r="7.40" fill="none" stroke="#05ff0a" stroke-width="1.7"/>
<circle cx="1902.12" cy="1387.38" r="7.40" fill="none" stroke="#05ff0a" stroke-width="1.7"/>
<circle cx="1914.71" cy="1312.58" r="7.40" fill="none" stroke="#05ff0a" stroke-width="1.7"/>
<circle cx="1936.47" cy="1252.62" r="7.40" fill="none" stroke="#05ff0a" stroke-width="1.7"/>
<circle cx="1954.79" cy="1252.62" r="7.40" fill="none" stroke="#05ff0a" stroke-width="1.7"/>
<circle cx="1977.13" cy="1207.31" r="7.40" fill="none" stroke="#05ff0a" stroke-width="1.7"/>
<polygon fill="none" stroke="#05ff0a" stroke-width="1.7" stroke-linejoin="miter" points="1594.6,1667.9 1601.9,1682.2 1587.4,1682.2"/>
<polygon fill="none" stroke="#05ff0a" stroke-width="1.7" stroke-linejoin="miter" points="1623.3,1658.1 1630.5,1672.4 1616.0,1672.4"/>
<polygon fill="none" stroke="#05ff0a" stroke-width="1.7" stroke-linejoin="miter" points="1639.9,1650.3 1647.1,1664.6 1632.6,1664.6"/>
<polygon fill="none" stroke="#05ff0a" stroke-width="1.7" stroke-linejoin="miter" points="1657.0,1634.7 1664.3,1649.0 1649.8,1649.0"/>
<polygon fill="none" stroke="#05ff0a" stroke-width="1.7" stroke-linejoin="miter" points="1674.2,1615.2 1681.5,1629.5 1667.0,1629.5"/>
<polygon fill="none" stroke="#05ff0a" stroke-width="1.7" stroke-linejoin="miter" points="1697.7,1587.8 1704.9,1602.1 1690.4,1602.1"/>
<polygon fill="none" stroke="#05ff0a" stroke-width="1.7" stroke-linejoin="miter" points="1713.7,1589.8 1721.0,1604.1 1706.5,1604.1"/>
<polygon fill="none" stroke="#05ff0a" stroke-width="1.7" stroke-linejoin="miter" points="1737.2,1587.8 1744.5,1602.1 1730.0,1602.1"/>
<polygon fill="none" stroke="#05ff0a" stroke-width="1.7" stroke-linejoin="miter" points="1754.4,1576.1 1761.6,1590.4 1747.1,1590.4"/>
<polygon fill="none" stroke="#05ff0a" stroke-width="1.7" stroke-linejoin="miter" points="1777.3,1566.3 1784.5,1580.6 1770.0,1580.6"/>
<polygon fill="none" stroke="#05ff0a" stroke-width="1.7" stroke-linejoin="miter" points="1793.9,1552.7 1801.1,1567.0 1786.6,1567.0"/>
<polygon fill="none" stroke="#05ff0a" stroke-width="1.7" stroke-linejoin="miter" points="1817.4,1526.3 1824.6,1540.6 1810.1,1540.6"/>
<polygon fill="none" stroke="#05ff0a" stroke-width="1.7" stroke-linejoin="miter" points="1833.4,1485.3 1840.7,1499.6 1826.2,1499.6"/>
<polygon fill="none" stroke="#05ff0a" stroke-width="1.7" stroke-linejoin="miter" points="1856.9,1485.3 1864.1,1499.6 1849.6,1499.6"/>
<polygon fill="none" stroke="#05ff0a" stroke-width="1.7" stroke-linejoin="miter" points="1880.4,1485.3 1887.6,1499.6 1873.1,1499.6"/>
<polygon fill="none" stroke="#05ff0a" stroke-width="1.7" stroke-linejoin="miter" points="1902.1,1485.3 1909.4,1499.6 1894.9,1499.6"/>
<polygon fill="none" stroke="#05ff0a" stroke-width="1.7" stroke-linejoin="miter" points="1914.7,1465.8 1922.0,1480.1 1907.5,1480.1"/>
<polygon fill="none" stroke="#05ff0a" stroke-width="1.7" stroke-linejoin="miter" points="1936.5,1464.6 1943.7,1478.9 1929.2,1478.9"/>
<polygon fill="none" stroke="#05ff0a" stroke-width="1.7" stroke-linejoin="miter" points="1954.8,1463.4 1962.0,1477.7 1947.5,1477.7"/>
<polygon fill="none" stroke="#05ff0a" stroke-width="1.7" stroke-linejoin="miter" points="1977.1,1417.9 1984.4,1432.2 1969.9,1432.2"/>
<polygon fill="none" stroke="#05ff0a" stroke-width="1.7" stroke-linejoin="miter" points="2000.6,1396.4 2007.9,1410.7 1993.4,1410.7"/>
<polygon fill="none" stroke="#05ff0a" stroke-width="1.7" stroke-linejoin="miter" points="2017.8,1333.0 2025.0,1347.3 2010.5,1347.3"/>
<polygon fill="none" stroke="#05ff0a" stroke-width="1.7" stroke-linejoin="miter" points="2034.4,1316.4 2041.6,1330.7 2027.1,1330.7"/>
<polygon fill="none" stroke="#05ff0a" stroke-width="1.7" stroke-linejoin="miter" points="2058.4,1299.4 2065.7,1313.7 2051.2,1313.7"/>
<rect x="289.40" y="2676.60" width="53.20" height="15.50" fill="#ff0000"/>
<rect x="347.50" y="2676.60" width="34.40" height="15.50" fill="#ff0000"/>
<rect x="393.00" y="2676.60" width="68.80" height="15.50" fill="#ff0000"/>
<rect x="467.30" y="2676.60" width="36.40" height="15.50" fill="#ff0000"/>
<rect x="506.80" y="2676.60" width="36.80" height="15.50" fill="#ff0000"/>
<rect x="554.50" y="2676.60" width="68.50" height="15.50" fill="#ff0000"/>
<rect x="628.60" y="2676.60" width="34.40" height="15.50" fill="#ff0000"/>
<rect x="669.00" y="2676.60" width="33.90" height="15.50" fill="#ff0000"/>
<rect x="708.40" y="2676.60" width="33.90" height="15.50" fill="#ff0000"/>
<rect x="748.30" y="2676.60" width="33.90" height="15.50" fill="#ff0000"/>
<rect x="788.30" y="2676.60" width="17.50" height="15.50" fill="#ff0000"/>
<rect x="811.90" y="2676.60" width="18.10" height="15.50" fill="#ff0000"/>
<rect x="833.00" y="2676.60" width="28.80" height="15.50" fill="#ff0000"/>
<rect x="867.90" y="2676.60" width="35.70" height="15.50" fill="#ff0000"/>
<rect x="907.20" y="2676.60" width="18.20" height="15.50" fill="#ff0000"/>
<rect x="931.40" y="2676.60" width="52.40" height="15.50" fill="#ff0000"/>
<rect x="989.50" y="2676.60" width="15.50" height="15.50" fill="#ff0000"/>
<rect x="411.60" y="2674.00" width="50.20" height="6.00" fill="#ff0000"/>
<rect x="467.30" y="2674.00" width="18.20" height="6.00" fill="#ff0000"/>
<line x1="289.40" y1="2684.00" x2="1005.00" y2="2684.00" stroke="#ff0000" stroke-width="2.8" stroke-linecap="butt"/>
<rect x="547.63" y="1669.25" width="17.50" height="17.50" fill="#000"/>
<polygon fill="#000" points="556.4,1649.0 566.1,1658.8 556.4,1668.5 546.6,1658.8"/>
<rect x="547.63" y="1634.60" width="17.50" height="17.50" fill="#000"/>
<polygon fill="#000" points="572.2,1676.2 581.5,1657.7 563.0,1657.7"/>
<rect x="563.47" y="1638.45" width="17.50" height="17.50" fill="#000"/>
<polygon fill="#000" points="572.2,1618.2 582.0,1628.0 572.2,1637.7 562.5,1628.0"/>
<rect x="581.02" y="1638.45" width="17.50" height="17.50" fill="#000"/>
<polygon fill="#000" points="589.8,1622.0 599.5,1631.8 589.8,1641.5 580.0,1631.8"/>
<rect x="519.90" y="1619.20" width="17.50" height="17.50" fill="#000"/>
<rect x="534.05" y="1653.85" width="17.50" height="17.50" fill="#000"/>
</svg></body></html>
